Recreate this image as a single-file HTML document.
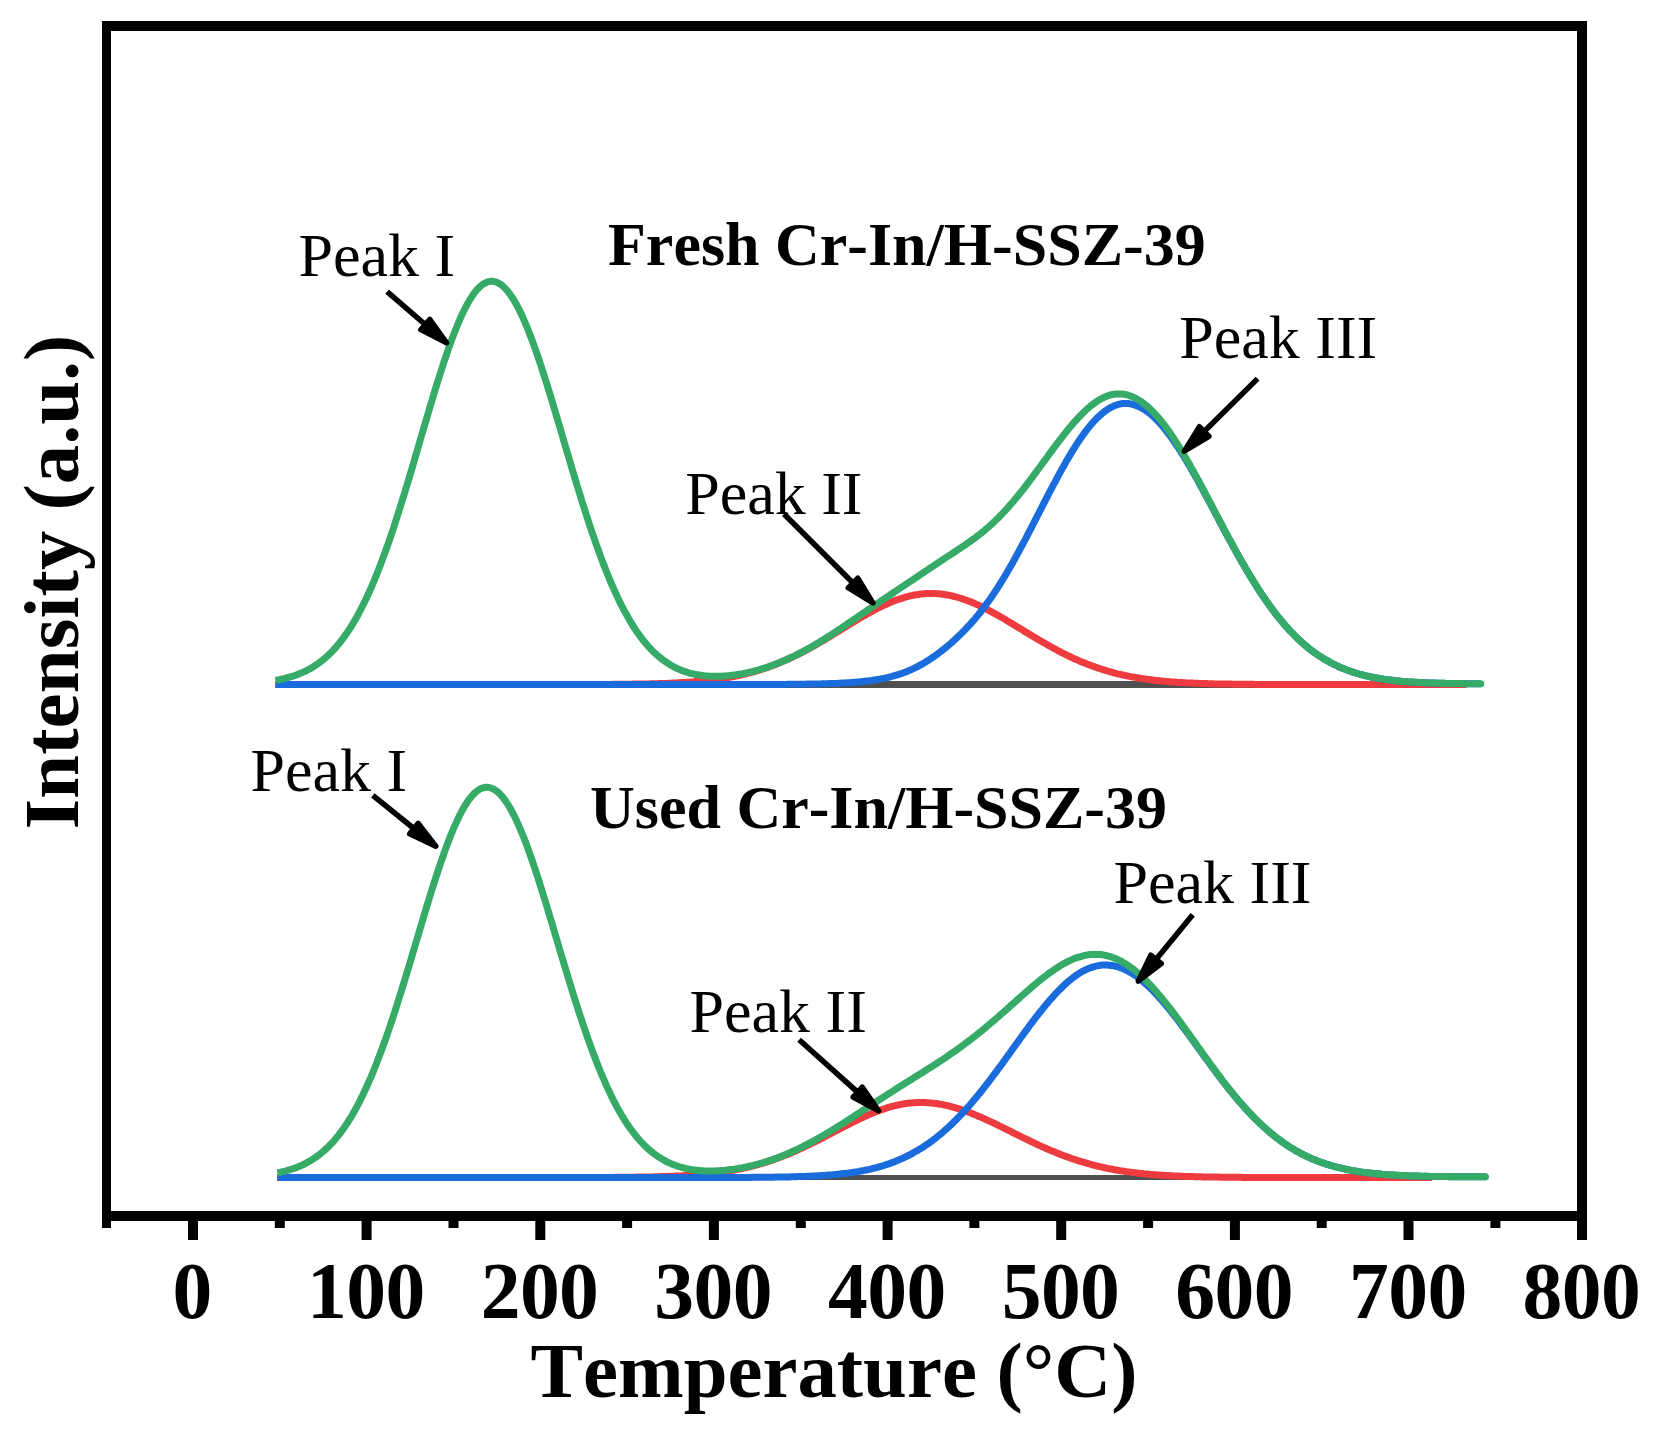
<!DOCTYPE html>
<html lang="en"><head><meta charset="utf-8"><title>NH3-TPD profiles</title>
<style>
html,body{margin:0;padding:0;background:#fff;}
body{width:1666px;height:1433px;overflow:hidden;}
svg{display:block;}
text{font-family:"Liberation Serif","Times New Roman",serif;fill:#000;font-kerning:none;font-variant-ligatures:none;}
.b{font-weight:bold;}
.r{font-weight:normal;}
</style></head>
<body>
<svg width="1666" height="1433" viewBox="0 0 1666 1433">
<rect width="1666" height="1433" fill="#fff"/>
<g id="curves">
<path d="M275.5 684.5 L1466.2 684.5" stroke="#505050" stroke-width="7" fill="none"/>
<path d="M275.5 684.5 L277.2 684.5 L279.0 684.5 L280.7 684.5 L282.4 684.5 L284.2 684.5 L285.9 684.5 L287.6 684.5 L289.4 684.5 L291.1 684.5 L292.8 684.5 L294.6 684.5 L296.3 684.5 L298.1 684.5 L299.8 684.5 L301.5 684.5 L303.3 684.5 L305.0 684.5 L306.7 684.5 L308.5 684.5 L310.2 684.5 L312.0 684.5 L313.7 684.5 L315.4 684.5 L317.2 684.5 L318.9 684.5 L320.6 684.5 L322.4 684.5 L324.1 684.5 L325.8 684.5 L327.6 684.5 L329.3 684.5 L331.1 684.5 L332.8 684.5 L334.5 684.5 L336.3 684.5 L338.0 684.5 L339.7 684.5 L341.5 684.5 L343.2 684.5 L344.9 684.5 L346.7 684.5 L348.4 684.5 L350.2 684.5 L351.9 684.5 L353.6 684.5 L355.4 684.5 L357.1 684.5 L358.8 684.5 L360.6 684.5 L362.3 684.5 L364.0 684.5 L365.8 684.5 L367.5 684.5 L369.3 684.5 L371.0 684.5 L372.7 684.5 L374.5 684.5 L376.2 684.5 L377.9 684.5 L379.7 684.5 L381.4 684.5 L383.1 684.5 L384.9 684.5 L386.6 684.5 L388.4 684.5 L390.1 684.5 L391.8 684.5 L393.6 684.5 L395.3 684.5 L397.0 684.5 L398.8 684.5 L400.5 684.5 L402.2 684.5 L404.0 684.5 L405.7 684.5 L407.5 684.5 L409.2 684.5 L410.9 684.5 L412.7 684.5 L414.4 684.5 L416.1 684.5 L417.9 684.5 L419.6 684.5 L421.3 684.5 L423.1 684.5 L424.8 684.5 L426.6 684.5 L428.3 684.5 L430.0 684.5 L431.8 684.5 L433.5 684.5 L435.2 684.5 L437.0 684.5 L438.7 684.5 L440.5 684.5 L442.2 684.5 L443.9 684.5 L445.7 684.5 L447.4 684.5 L449.1 684.5 L450.9 684.5 L452.6 684.5 L454.3 684.5 L456.1 684.5 L457.8 684.5 L459.6 684.5 L461.3 684.5 L463.0 684.5 L464.8 684.5 L466.5 684.5 L468.2 684.5 L470.0 684.5 L471.7 684.5 L473.4 684.5 L475.2 684.5 L476.9 684.5 L478.7 684.5 L480.4 684.5 L482.1 684.5 L483.9 684.5 L485.6 684.5 L487.3 684.5 L489.1 684.5 L490.8 684.5 L492.5 684.5 L494.3 684.5 L496.0 684.5 L497.8 684.5 L499.5 684.5 L501.2 684.5 L503.0 684.5 L504.7 684.5 L506.4 684.5 L508.2 684.5 L509.9 684.5 L511.6 684.5 L513.4 684.5 L515.1 684.5 L516.9 684.5 L518.6 684.5 L520.3 684.5 L522.1 684.5 L523.8 684.5 L525.5 684.5 L527.3 684.5 L529.0 684.5 L530.7 684.5 L532.5 684.5 L534.2 684.5 L536.0 684.5 L537.7 684.5 L539.4 684.5 L541.2 684.5 L542.9 684.5 L544.6 684.5 L546.4 684.5 L548.1 684.5 L549.9 684.5 L551.6 684.5 L553.3 684.5 L555.1 684.5 L556.8 684.5 L558.5 684.5 L560.3 684.5 L562.0 684.5 L563.7 684.5 L565.5 684.5 L567.2 684.5 L569.0 684.5 L570.7 684.5 L572.4 684.5 L574.2 684.5 L575.9 684.5 L577.6 684.5 L579.4 684.5 L581.1 684.5 L582.8 684.5 L584.6 684.4 L586.3 684.4 L588.1 684.4 L589.8 684.4 L591.5 684.4 L593.3 684.4 L595.0 684.4 L596.7 684.4 L598.5 684.4 L600.2 684.4 L601.9 684.4 L603.7 684.4 L605.4 684.4 L607.2 684.4 L608.9 684.4 L610.6 684.4 L612.4 684.3 L614.1 684.3 L615.8 684.3 L617.6 684.3 L619.3 684.3 L621.0 684.3 L622.8 684.3 L624.5 684.2 L626.3 684.2 L628.0 684.2 L629.7 684.2 L631.5 684.2 L633.2 684.1 L634.9 684.1 L636.7 684.1 L638.4 684.1 L640.1 684.0 L641.9 684.0 L643.6 684.0 L645.4 683.9 L647.1 683.9 L648.8 683.9 L650.6 683.8 L652.3 683.8 L654.0 683.7 L655.8 683.7 L657.5 683.7 L659.3 683.6 L661.0 683.5 L662.7 683.5 L664.5 683.4 L666.2 683.4 L667.9 683.3 L669.7 683.2 L671.4 683.2 L673.1 683.1 L674.9 683.0 L676.6 682.9 L678.4 682.8 L680.1 682.7 L681.8 682.6 L683.6 682.5 L685.3 682.4 L687.0 682.3 L688.8 682.2 L690.5 682.1 L692.2 681.9 L694.0 681.8 L695.7 681.6 L697.5 681.5 L699.2 681.3 L700.9 681.2 L702.7 681.0 L704.4 680.8 L706.1 680.6 L707.9 680.5 L709.6 680.3 L711.3 680.0 L713.1 679.8 L714.8 679.6 L716.6 679.4 L718.3 679.1 L720.0 678.9 L721.8 678.6 L723.5 678.3 L725.2 678.1 L727.0 677.8 L728.7 677.5 L730.4 677.1 L732.2 676.8 L733.9 676.5 L735.7 676.1 L737.4 675.8 L739.1 675.4 L740.9 675.0 L742.6 674.6 L744.3 674.2 L746.1 673.8 L747.8 673.3 L749.5 672.9 L751.3 672.4 L753.0 671.9 L754.8 671.5 L756.5 670.9 L758.2 670.4 L760.0 669.9 L761.7 669.3 L763.4 668.8 L765.2 668.2 L766.9 667.6 L768.6 667.0 L770.4 666.4 L772.1 665.7 L773.9 665.1 L775.6 664.4 L777.3 663.7 L779.1 663.0 L780.8 662.3 L782.5 661.6 L784.3 660.8 L786.0 660.1 L787.8 659.3 L789.5 658.5 L791.2 657.7 L793.0 656.9 L794.7 656.0 L796.4 655.2 L798.2 654.3 L799.9 653.4 L801.6 652.5 L803.4 651.6 L805.1 650.7 L806.9 649.8 L808.6 648.8 L810.3 647.9 L812.1 646.9 L813.8 646.0 L815.5 645.0 L817.3 644.0 L819.0 643.0 L820.7 641.9 L822.5 640.9 L824.2 639.9 L826.0 638.9 L827.7 637.8 L829.4 636.8 L831.2 635.7 L832.9 634.6 L834.6 633.6 L836.4 632.5 L838.1 631.4 L839.8 630.4 L841.6 629.3 L843.3 628.2 L845.1 627.2 L846.8 626.1 L848.5 625.0 L850.3 624.0 L852.0 622.9 L853.7 621.9 L855.5 620.8 L857.2 619.8 L858.9 618.7 L860.7 617.7 L862.4 616.7 L864.2 615.7 L865.9 614.7 L867.6 613.7 L869.4 612.7 L871.1 611.8 L872.8 610.9 L874.6 609.9 L876.3 609.0 L878.0 608.1 L879.8 607.3 L881.5 606.4 L883.3 605.6 L885.0 604.8 L886.7 604.0 L888.5 603.2 L890.2 602.5 L891.9 601.8 L893.7 601.1 L895.4 600.4 L897.2 599.8 L898.9 599.2 L900.6 598.6 L902.4 598.1 L904.1 597.5 L905.8 597.0 L907.6 596.6 L909.3 596.1 L911.0 595.7 L912.8 595.4 L914.5 595.0 L916.3 594.7 L918.0 594.5 L919.7 594.2 L921.5 594.0 L923.2 593.8 L924.9 593.7 L926.7 593.6 L928.4 593.5 L930.1 593.5 L931.9 593.5 L933.6 593.5 L935.4 593.6 L937.1 593.7 L938.8 593.8 L940.6 594.0 L942.3 594.2 L944.0 594.4 L945.8 594.7 L947.5 595.0 L949.2 595.3 L951.0 595.7 L952.7 596.1 L954.5 596.5 L956.2 597.0 L957.9 597.5 L959.7 598.0 L961.4 598.5 L963.1 599.1 L964.9 599.7 L966.6 600.3 L968.3 601.0 L970.1 601.6 L971.8 602.3 L973.6 603.1 L975.3 603.8 L977.0 604.6 L978.8 605.4 L980.5 606.2 L982.2 607.0 L984.0 607.9 L985.7 608.8 L987.4 609.6 L989.2 610.6 L990.9 611.5 L992.7 612.4 L994.4 613.4 L996.1 614.3 L997.9 615.3 L999.6 616.3 L1001.3 617.3 L1003.1 618.3 L1004.8 619.3 L1006.6 620.4 L1008.3 621.4 L1010.0 622.4 L1011.8 623.5 L1013.5 624.5 L1015.2 625.6 L1017.0 626.7 L1018.7 627.7 L1020.4 628.8 L1022.2 629.8 L1023.9 630.9 L1025.7 632.0 L1027.4 633.0 L1029.1 634.1 L1030.9 635.1 L1032.6 636.2 L1034.3 637.2 L1036.1 638.3 L1037.8 639.3 L1039.5 640.3 L1041.3 641.3 L1043.0 642.3 L1044.8 643.3 L1046.5 644.3 L1048.2 645.3 L1050.0 646.3 L1051.7 647.2 L1053.4 648.2 L1055.2 649.1 L1056.9 650.1 L1058.6 651.0 L1060.4 651.9 L1062.1 652.8 L1063.9 653.7 L1065.6 654.5 L1067.3 655.4 L1069.1 656.2 L1070.8 657.0 L1072.5 657.9 L1074.3 658.7 L1076.0 659.4 L1077.7 660.2 L1079.5 661.0 L1081.2 661.7 L1083.0 662.4 L1084.7 663.1 L1086.4 663.8 L1088.2 664.5 L1089.9 665.1 L1091.6 665.8 L1093.4 666.4 L1095.1 667.0 L1096.8 667.6 L1098.6 668.2 L1100.3 668.8 L1102.1 669.4 L1103.8 669.9 L1105.5 670.4 L1107.3 671.0 L1109.0 671.5 L1110.7 671.9 L1112.5 672.4 L1114.2 672.9 L1115.9 673.3 L1117.7 673.8 L1119.4 674.2 L1121.2 674.6 L1122.9 675.0 L1124.6 675.4 L1126.4 675.7 L1128.1 676.1 L1129.8 676.4 L1131.6 676.8 L1133.3 677.1 L1135.1 677.4 L1136.8 677.7 L1138.5 678.0 L1140.3 678.3 L1142.0 678.6 L1143.7 678.8 L1145.5 679.1 L1147.2 679.3 L1148.9 679.6 L1150.7 679.8 L1152.4 680.0 L1154.2 680.2 L1155.9 680.4 L1157.6 680.6 L1159.4 680.8 L1161.1 681.0 L1162.8 681.1 L1164.6 681.3 L1166.3 681.4 L1168.0 681.6 L1169.8 681.7 L1171.5 681.9 L1173.3 682.0 L1175.0 682.1 L1176.7 682.3 L1178.5 682.4 L1180.2 682.5 L1181.9 682.6 L1183.7 682.7 L1185.4 682.8 L1187.1 682.9 L1188.9 683.0 L1190.6 683.0 L1192.4 683.1 L1194.1 683.2 L1195.8 683.3 L1197.6 683.3 L1199.3 683.4 L1201.0 683.5 L1202.8 683.5 L1204.5 683.6 L1206.2 683.6 L1208.0 683.7 L1209.7 683.7 L1211.5 683.8 L1213.2 683.8 L1214.9 683.9 L1216.7 683.9 L1218.4 683.9 L1220.1 684.0 L1221.9 684.0 L1223.6 684.0 L1225.3 684.1 L1227.1 684.1 L1228.8 684.1 L1230.6 684.1 L1232.3 684.2 L1234.0 684.2 L1235.8 684.2 L1237.5 684.2 L1239.2 684.2 L1241.0 684.2 L1242.7 684.3 L1244.5 684.3 L1246.2 684.3 L1247.9 684.3 L1249.7 684.3 L1251.4 684.3 L1253.1 684.3 L1254.9 684.4 L1256.6 684.4 L1258.3 684.4 L1260.1 684.4 L1261.8 684.4 L1263.6 684.4 L1265.3 684.4 L1267.0 684.4 L1268.8 684.4 L1270.5 684.4 L1272.2 684.4 L1274.0 684.4 L1275.7 684.4 L1277.4 684.4 L1279.2 684.4 L1280.9 684.5 L1282.7 684.5 L1284.4 684.5 L1286.1 684.5 L1287.9 684.5 L1289.6 684.5 L1291.3 684.5 L1293.1 684.5 L1294.8 684.5 L1296.5 684.5 L1298.3 684.5 L1300.0 684.5 L1301.8 684.5 L1303.5 684.5 L1305.2 684.5 L1307.0 684.5 L1308.7 684.5 L1310.4 684.5 L1312.2 684.5 L1313.9 684.5 L1315.6 684.5 L1317.4 684.5 L1319.1 684.5 L1320.9 684.5 L1322.6 684.5 L1324.3 684.5 L1326.1 684.5 L1327.8 684.5 L1329.5 684.5 L1331.3 684.5 L1333.0 684.5 L1334.7 684.5 L1336.5 684.5 L1338.2 684.5 L1340.0 684.5 L1341.7 684.5 L1343.4 684.5 L1345.2 684.5 L1346.9 684.5 L1348.6 684.5 L1350.4 684.5 L1352.1 684.5 L1353.9 684.5 L1355.6 684.5 L1357.3 684.5 L1359.1 684.5 L1360.8 684.5 L1362.5 684.5 L1364.3 684.5 L1366.0 684.5 L1367.7 684.5 L1369.5 684.5 L1371.2 684.5 L1373.0 684.5 L1374.7 684.5 L1376.4 684.5 L1378.2 684.5 L1379.9 684.5 L1381.6 684.5 L1383.4 684.5 L1385.1 684.5 L1386.8 684.5 L1388.6 684.5 L1390.3 684.5 L1392.1 684.5 L1393.8 684.5 L1395.5 684.5 L1397.3 684.5 L1399.0 684.5 L1400.7 684.5 L1402.5 684.5 L1404.2 684.5 L1405.9 684.5 L1407.7 684.5 L1409.4 684.5 L1411.2 684.5 L1412.9 684.5 L1414.6 684.5 L1416.4 684.5 L1418.1 684.5 L1419.8 684.5 L1421.6 684.5 L1423.3 684.5 L1425.0 684.5 L1426.8 684.5 L1428.5 684.5 L1430.3 684.5 L1432.0 684.5 L1433.7 684.5 L1435.5 684.5 L1437.2 684.5 L1438.9 684.5 L1440.7 684.5 L1442.4 684.5 L1444.1 684.5 L1445.9 684.5 L1447.6 684.5 L1449.4 684.5 L1451.1 684.5 L1452.8 684.5 L1454.6 684.5 L1456.3 684.5 L1458.0 684.5 L1459.8 684.5 L1461.5 684.5 L1463.2 684.5 L1465.0 684.5 L1466.2 684.5" stroke="#EE3B40" stroke-width="7" fill="none" stroke-linejoin="round"/>
<path d="M275.5 684.5 L277.2 684.5 L279.0 684.5 L280.7 684.5 L282.4 684.5 L284.2 684.5 L285.9 684.5 L287.6 684.5 L289.4 684.5 L291.1 684.5 L292.8 684.5 L294.6 684.5 L296.3 684.5 L298.1 684.5 L299.8 684.5 L301.5 684.5 L303.3 684.5 L305.0 684.5 L306.7 684.5 L308.5 684.5 L310.2 684.5 L312.0 684.5 L313.7 684.5 L315.4 684.5 L317.2 684.5 L318.9 684.5 L320.6 684.5 L322.4 684.5 L324.1 684.5 L325.8 684.5 L327.6 684.5 L329.3 684.5 L331.1 684.5 L332.8 684.5 L334.5 684.5 L336.3 684.5 L338.0 684.5 L339.7 684.5 L341.5 684.5 L343.2 684.5 L344.9 684.5 L346.7 684.5 L348.4 684.5 L350.2 684.5 L351.9 684.5 L353.6 684.5 L355.4 684.5 L357.1 684.5 L358.8 684.5 L360.6 684.5 L362.3 684.5 L364.0 684.5 L365.8 684.5 L367.5 684.5 L369.3 684.5 L371.0 684.5 L372.7 684.5 L374.5 684.5 L376.2 684.5 L377.9 684.5 L379.7 684.5 L381.4 684.5 L383.1 684.5 L384.9 684.5 L386.6 684.5 L388.4 684.5 L390.1 684.5 L391.8 684.5 L393.6 684.5 L395.3 684.5 L397.0 684.5 L398.8 684.5 L400.5 684.5 L402.2 684.5 L404.0 684.5 L405.7 684.5 L407.5 684.5 L409.2 684.5 L410.9 684.5 L412.7 684.5 L414.4 684.5 L416.1 684.5 L417.9 684.5 L419.6 684.5 L421.3 684.5 L423.1 684.5 L424.8 684.5 L426.6 684.5 L428.3 684.5 L430.0 684.5 L431.8 684.5 L433.5 684.5 L435.2 684.5 L437.0 684.5 L438.7 684.5 L440.5 684.5 L442.2 684.5 L443.9 684.5 L445.7 684.5 L447.4 684.5 L449.1 684.5 L450.9 684.5 L452.6 684.5 L454.3 684.5 L456.1 684.5 L457.8 684.5 L459.6 684.5 L461.3 684.5 L463.0 684.5 L464.8 684.5 L466.5 684.5 L468.2 684.5 L470.0 684.5 L471.7 684.5 L473.4 684.5 L475.2 684.5 L476.9 684.5 L478.7 684.5 L480.4 684.5 L482.1 684.5 L483.9 684.5 L485.6 684.5 L487.3 684.5 L489.1 684.5 L490.8 684.5 L492.5 684.5 L494.3 684.5 L496.0 684.5 L497.8 684.5 L499.5 684.5 L501.2 684.5 L503.0 684.5 L504.7 684.5 L506.4 684.5 L508.2 684.5 L509.9 684.5 L511.6 684.5 L513.4 684.5 L515.1 684.5 L516.9 684.5 L518.6 684.5 L520.3 684.5 L522.1 684.5 L523.8 684.5 L525.5 684.5 L527.3 684.5 L529.0 684.5 L530.7 684.5 L532.5 684.5 L534.2 684.5 L536.0 684.5 L537.7 684.5 L539.4 684.5 L541.2 684.5 L542.9 684.5 L544.6 684.5 L546.4 684.5 L548.1 684.5 L549.9 684.5 L551.6 684.5 L553.3 684.5 L555.1 684.5 L556.8 684.5 L558.5 684.5 L560.3 684.5 L562.0 684.5 L563.7 684.5 L565.5 684.5 L567.2 684.5 L569.0 684.5 L570.7 684.5 L572.4 684.5 L574.2 684.5 L575.9 684.5 L577.6 684.5 L579.4 684.5 L581.1 684.5 L582.8 684.5 L584.6 684.5 L586.3 684.5 L588.1 684.5 L589.8 684.5 L591.5 684.5 L593.3 684.5 L595.0 684.5 L596.7 684.5 L598.5 684.5 L600.2 684.5 L601.9 684.5 L603.7 684.5 L605.4 684.5 L607.2 684.5 L608.9 684.5 L610.6 684.5 L612.4 684.5 L614.1 684.5 L615.8 684.5 L617.6 684.5 L619.3 684.5 L621.0 684.5 L622.8 684.5 L624.5 684.5 L626.3 684.5 L628.0 684.5 L629.7 684.5 L631.5 684.5 L633.2 684.5 L634.9 684.5 L636.7 684.5 L638.4 684.5 L640.1 684.5 L641.9 684.5 L643.6 684.5 L645.4 684.5 L647.1 684.5 L648.8 684.5 L650.6 684.5 L652.3 684.5 L654.0 684.5 L655.8 684.5 L657.5 684.5 L659.3 684.5 L661.0 684.5 L662.7 684.5 L664.5 684.5 L666.2 684.5 L667.9 684.5 L669.7 684.5 L671.4 684.5 L673.1 684.5 L674.9 684.5 L676.6 684.5 L678.4 684.5 L680.1 684.5 L681.8 684.5 L683.6 684.5 L685.3 684.5 L687.0 684.5 L688.8 684.5 L690.5 684.5 L692.2 684.5 L694.0 684.5 L695.7 684.5 L697.5 684.5 L699.2 684.5 L700.9 684.5 L702.7 684.5 L704.4 684.5 L706.1 684.5 L707.9 684.5 L709.6 684.5 L711.3 684.5 L713.1 684.5 L714.8 684.5 L716.6 684.5 L718.3 684.5 L720.0 684.5 L721.8 684.5 L723.5 684.5 L725.2 684.5 L727.0 684.5 L728.7 684.5 L730.4 684.5 L732.2 684.5 L733.9 684.5 L735.7 684.5 L737.4 684.5 L739.1 684.5 L740.9 684.5 L742.6 684.5 L744.3 684.5 L746.1 684.5 L747.8 684.5 L749.5 684.5 L751.3 684.5 L753.0 684.5 L754.8 684.5 L756.5 684.5 L758.2 684.5 L760.0 684.5 L761.7 684.5 L763.4 684.4 L765.2 684.4 L766.9 684.4 L768.6 684.4 L770.4 684.4 L772.1 684.4 L773.9 684.4 L775.6 684.4 L777.3 684.4 L779.1 684.4 L780.8 684.4 L782.5 684.4 L784.3 684.4 L786.0 684.4 L787.8 684.3 L789.5 684.3 L791.2 684.3 L793.0 684.3 L794.7 684.3 L796.4 684.3 L798.2 684.3 L799.9 684.2 L801.6 684.2 L803.4 684.2 L805.1 684.2 L806.9 684.1 L808.6 684.1 L810.3 684.1 L812.1 684.1 L813.8 684.0 L815.5 684.0 L817.3 684.0 L819.0 683.9 L820.7 683.9 L822.5 683.8 L824.2 683.8 L826.0 683.7 L827.7 683.7 L829.4 683.6 L831.2 683.6 L832.9 683.5 L834.6 683.4 L836.4 683.4 L838.1 683.3 L839.8 683.2 L841.6 683.1 L843.3 683.0 L845.1 682.9 L846.8 682.8 L848.5 682.7 L850.3 682.6 L852.0 682.4 L853.7 682.3 L855.5 682.2 L857.2 682.0 L858.9 681.9 L860.7 681.7 L862.4 681.5 L864.2 681.3 L865.9 681.1 L867.6 680.9 L869.4 680.7 L871.1 680.5 L872.8 680.2 L874.6 680.0 L876.3 679.7 L878.0 679.4 L879.8 679.1 L881.5 678.8 L883.3 678.4 L885.0 678.1 L886.7 677.7 L888.5 677.3 L890.2 676.8 L891.9 676.4 L893.7 675.9 L895.4 675.4 L897.2 674.9 L898.9 674.4 L900.6 673.8 L902.4 673.2 L904.1 672.5 L905.8 671.9 L907.6 671.2 L909.3 670.4 L911.0 669.7 L912.8 668.9 L914.5 668.1 L916.3 667.2 L918.0 666.3 L919.7 665.4 L921.5 664.4 L923.2 663.4 L924.9 662.4 L926.7 661.3 L928.4 660.2 L930.1 659.1 L931.9 657.9 L933.6 656.8 L935.4 655.5 L937.1 654.3 L938.8 653.0 L940.6 651.7 L942.3 650.3 L944.0 648.9 L945.8 647.5 L947.5 646.1 L949.2 644.6 L951.0 643.1 L952.7 641.6 L954.5 640.0 L956.2 638.4 L957.9 636.8 L959.7 635.1 L961.4 633.4 L963.1 631.7 L964.9 629.9 L966.6 628.1 L968.3 626.2 L970.1 624.3 L971.8 622.4 L973.6 620.4 L975.3 618.4 L977.0 616.3 L978.8 614.2 L980.5 612.0 L982.2 609.8 L984.0 607.5 L985.7 605.2 L987.4 602.8 L989.2 600.3 L990.9 597.9 L992.7 595.3 L994.4 592.7 L996.1 590.1 L997.9 587.4 L999.6 584.7 L1001.3 581.9 L1003.1 579.0 L1004.8 576.2 L1006.6 573.2 L1008.3 570.3 L1010.0 567.3 L1011.8 564.2 L1013.5 561.1 L1015.2 558.0 L1017.0 554.8 L1018.7 551.6 L1020.4 548.4 L1022.2 545.2 L1023.9 541.9 L1025.7 538.6 L1027.4 535.3 L1029.1 531.9 L1030.9 528.6 L1032.6 525.2 L1034.3 521.8 L1036.1 518.4 L1037.8 515.1 L1039.5 511.7 L1041.3 508.3 L1043.0 504.9 L1044.8 501.5 L1046.5 498.1 L1048.2 494.8 L1050.0 491.4 L1051.7 488.1 L1053.4 484.8 L1055.2 481.6 L1056.9 478.3 L1058.6 475.1 L1060.4 471.9 L1062.1 468.8 L1063.9 465.7 L1065.6 462.6 L1067.3 459.6 L1069.1 456.6 L1070.8 453.7 L1072.5 450.9 L1074.3 448.1 L1076.0 445.3 L1077.7 442.7 L1079.5 440.0 L1081.2 437.5 L1083.0 435.0 L1084.7 432.7 L1086.4 430.4 L1088.2 428.1 L1089.9 426.0 L1091.6 423.9 L1093.4 421.9 L1095.1 420.1 L1096.8 418.3 L1098.6 416.6 L1100.3 415.0 L1102.1 413.5 L1103.8 412.1 L1105.5 410.8 L1107.3 409.6 L1109.0 408.5 L1110.7 407.5 L1112.5 406.6 L1114.2 405.8 L1115.9 405.2 L1117.7 404.6 L1119.4 404.2 L1121.2 403.8 L1122.9 403.6 L1124.6 403.5 L1126.4 403.5 L1128.1 403.6 L1129.8 403.8 L1131.6 404.1 L1133.3 404.6 L1135.1 405.1 L1136.8 405.7 L1138.5 406.4 L1140.3 407.2 L1142.0 408.2 L1143.7 409.2 L1145.5 410.3 L1147.2 411.5 L1148.9 412.8 L1150.7 414.2 L1152.4 415.7 L1154.2 417.3 L1155.9 419.0 L1157.6 420.7 L1159.4 422.6 L1161.1 424.5 L1162.8 426.5 L1164.6 428.6 L1166.3 430.8 L1168.0 433.0 L1169.8 435.3 L1171.5 437.7 L1173.3 440.2 L1175.0 442.7 L1176.7 445.3 L1178.5 447.9 L1180.2 450.6 L1181.9 453.4 L1183.7 456.2 L1185.4 459.0 L1187.1 461.9 L1188.9 464.9 L1190.6 467.8 L1192.4 470.9 L1194.1 473.9 L1195.8 477.0 L1197.6 480.1 L1199.3 483.3 L1201.0 486.5 L1202.8 489.7 L1204.5 492.9 L1206.2 496.1 L1208.0 499.4 L1209.7 502.6 L1211.5 505.9 L1213.2 509.1 L1214.9 512.4 L1216.7 515.7 L1218.4 519.0 L1220.1 522.3 L1221.9 525.5 L1223.6 528.8 L1225.3 532.0 L1227.1 535.3 L1228.8 538.5 L1230.6 541.7 L1232.3 544.9 L1234.0 548.0 L1235.8 551.2 L1237.5 554.3 L1239.2 557.4 L1241.0 560.4 L1242.7 563.4 L1244.5 566.4 L1246.2 569.4 L1247.9 572.3 L1249.7 575.2 L1251.4 578.1 L1253.1 580.9 L1254.9 583.7 L1256.6 586.4 L1258.3 589.1 L1260.1 591.8 L1261.8 594.4 L1263.6 597.0 L1265.3 599.5 L1267.0 602.0 L1268.8 604.5 L1270.5 606.9 L1272.2 609.2 L1274.0 611.6 L1275.7 613.8 L1277.4 616.0 L1279.2 618.2 L1280.9 620.3 L1282.7 622.4 L1284.4 624.5 L1286.1 626.5 L1287.9 628.4 L1289.6 630.3 L1291.3 632.1 L1293.1 633.9 L1294.8 635.7 L1296.5 637.4 L1298.3 639.1 L1300.0 640.7 L1301.8 642.3 L1303.5 643.8 L1305.2 645.3 L1307.0 646.8 L1308.7 648.2 L1310.4 649.6 L1312.2 650.9 L1313.9 652.2 L1315.6 653.4 L1317.4 654.6 L1319.1 655.8 L1320.9 656.9 L1322.6 658.0 L1324.3 659.1 L1326.1 660.1 L1327.8 661.1 L1329.5 662.1 L1331.3 663.0 L1333.0 663.9 L1334.7 664.8 L1336.5 665.6 L1338.2 666.4 L1340.0 667.2 L1341.7 667.9 L1343.4 668.6 L1345.2 669.3 L1346.9 670.0 L1348.6 670.6 L1350.4 671.3 L1352.1 671.8 L1353.9 672.4 L1355.6 673.0 L1357.3 673.5 L1359.1 674.0 L1360.8 674.5 L1362.5 674.9 L1364.3 675.4 L1366.0 675.8 L1367.7 676.2 L1369.5 676.6 L1371.2 677.0 L1373.0 677.3 L1374.7 677.7 L1376.4 678.0 L1378.2 678.3 L1379.9 678.6 L1381.6 678.9 L1383.4 679.1 L1385.1 679.4 L1386.8 679.6 L1388.6 679.9 L1390.3 680.1 L1392.1 680.3 L1393.8 680.5 L1395.5 680.7 L1397.3 680.9 L1399.0 681.0 L1400.7 681.2 L1402.5 681.4 L1404.2 681.5 L1405.9 681.6 L1407.7 681.8 L1409.4 681.9 L1411.2 682.0 L1412.9 682.1 L1414.6 682.2 L1416.4 682.3 L1418.1 682.4 L1419.8 682.5 L1421.6 682.6 L1423.3 682.7 L1425.0 682.8 L1426.8 682.8 L1428.5 682.9 L1430.3 683.0 L1432.0 683.0 L1433.7 683.1 L1435.5 683.1 L1437.2 683.2 L1438.9 683.2 L1440.7 683.3 L1442.4 683.3 L1444.1 683.3 L1445.9 683.4 L1447.6 683.4 L1449.4 683.4 L1451.1 683.5 L1452.8 683.5 L1454.6 683.5 L1456.3 683.6 L1458.0 683.6 L1459.8 683.6 L1461.5 683.6 L1463.2 683.6 L1465.0 683.7 L1466.7 683.7 L1468.5 683.7 L1470.2 683.7 L1471.9 683.7 L1473.7 683.7 L1475.4 683.7 L1477.1 683.8 L1478.9 683.8 L1480.6 683.8 L1480.8 683.8" stroke="#1A6BDC" stroke-width="7" fill="none" stroke-linejoin="round"/>
<path d="M275.5 680.4 L277.2 680.1 L279.0 679.8 L280.7 679.4 L282.4 679.0 L284.2 678.6 L285.9 678.2 L287.6 677.7 L289.4 677.2 L291.1 676.7 L292.8 676.2 L294.6 675.6 L296.3 675.0 L298.1 674.3 L299.8 673.6 L301.5 672.9 L303.3 672.1 L305.0 671.3 L306.7 670.5 L308.5 669.5 L310.2 668.6 L312.0 667.6 L313.7 666.5 L315.4 665.4 L317.2 664.2 L318.9 663.0 L320.6 661.7 L322.4 660.3 L324.1 658.9 L325.8 657.4 L327.6 655.8 L329.3 654.2 L331.1 652.5 L332.8 650.7 L334.5 648.8 L336.3 646.8 L338.0 644.8 L339.7 642.7 L341.5 640.5 L343.2 638.2 L344.9 635.8 L346.7 633.3 L348.4 630.7 L350.2 628.1 L351.9 625.3 L353.6 622.4 L355.4 619.4 L357.1 616.4 L358.8 613.2 L360.6 609.9 L362.3 606.5 L364.0 603.0 L365.8 599.4 L367.5 595.7 L369.3 591.9 L371.0 588.0 L372.7 584.0 L374.5 579.8 L376.2 575.6 L377.9 571.3 L379.7 566.8 L381.4 562.3 L383.1 557.6 L384.9 552.9 L386.6 548.0 L388.4 543.1 L390.1 538.1 L391.8 533.0 L393.6 527.8 L395.3 522.5 L397.0 517.1 L398.8 511.7 L400.5 506.2 L402.2 500.6 L404.0 495.0 L405.7 489.3 L407.5 483.5 L409.2 477.7 L410.9 471.9 L412.7 466.0 L414.4 460.1 L416.1 454.2 L417.9 448.3 L419.6 442.3 L421.3 436.4 L423.1 430.4 L424.8 424.5 L426.6 418.6 L428.3 412.7 L430.0 406.8 L431.8 401.0 L433.5 395.3 L435.2 389.6 L437.0 383.9 L438.7 378.3 L440.5 372.9 L442.2 367.5 L443.9 362.2 L445.7 357.0 L447.4 351.9 L449.1 346.9 L450.9 342.1 L452.6 337.4 L454.3 332.9 L456.1 328.5 L457.8 324.2 L459.6 320.1 L461.3 316.2 L463.0 312.5 L464.8 309.0 L466.5 305.6 L468.2 302.5 L470.0 299.5 L471.7 296.8 L473.4 294.2 L475.2 291.9 L476.9 289.8 L478.7 288.0 L480.4 286.3 L482.1 284.9 L483.9 283.7 L485.6 282.8 L487.3 282.0 L489.1 281.6 L490.8 281.3 L492.5 281.3 L494.3 281.6 L496.0 282.0 L497.8 282.7 L499.5 283.7 L501.2 284.8 L503.0 286.2 L504.7 287.9 L506.4 289.7 L508.2 291.8 L509.9 294.1 L511.6 296.6 L513.4 299.3 L515.1 302.2 L516.9 305.3 L518.6 308.6 L520.3 312.1 L522.1 315.8 L523.8 319.6 L525.5 323.6 L527.3 327.8 L529.0 332.2 L530.7 336.7 L532.5 341.3 L534.2 346.1 L536.0 351.0 L537.7 356.0 L539.4 361.1 L541.2 366.4 L542.9 371.7 L544.6 377.1 L546.4 382.6 L548.1 388.2 L549.9 393.9 L551.6 399.6 L553.3 405.3 L555.1 411.1 L556.8 417.0 L558.5 422.8 L560.3 428.7 L562.0 434.6 L563.7 440.5 L565.5 446.4 L567.2 452.3 L569.0 458.2 L570.7 464.1 L572.4 469.9 L574.2 475.7 L575.9 481.5 L577.6 487.2 L579.4 492.8 L581.1 498.5 L582.8 504.0 L584.6 509.5 L586.3 514.9 L588.1 520.3 L589.8 525.6 L591.5 530.7 L593.3 535.9 L595.0 540.9 L596.7 545.8 L598.5 550.6 L600.2 555.4 L601.9 560.0 L603.7 564.6 L605.4 569.0 L607.2 573.4 L608.9 577.6 L610.6 581.8 L612.4 585.8 L614.1 589.7 L615.8 593.6 L617.6 597.3 L619.3 600.9 L621.0 604.4 L622.8 607.8 L624.5 611.1 L626.3 614.3 L628.0 617.4 L629.7 620.4 L631.5 623.3 L633.2 626.1 L634.9 628.8 L636.7 631.4 L638.4 633.8 L640.1 636.2 L641.9 638.6 L643.6 640.8 L645.4 642.9 L647.1 644.9 L648.8 646.9 L650.6 648.8 L652.3 650.6 L654.0 652.3 L655.8 653.9 L657.5 655.5 L659.3 656.9 L661.0 658.4 L662.7 659.7 L664.5 661.0 L666.2 662.2 L667.9 663.3 L669.7 664.4 L671.4 665.4 L673.1 666.4 L674.9 667.3 L676.6 668.2 L678.4 669.0 L680.1 669.7 L681.8 670.4 L683.6 671.1 L685.3 671.7 L687.0 672.2 L688.8 672.8 L690.5 673.3 L692.2 673.7 L694.0 674.1 L695.7 674.5 L697.5 674.8 L699.2 675.1 L700.9 675.3 L702.7 675.6 L704.4 675.8 L706.1 675.9 L707.9 676.1 L709.6 676.2 L711.3 676.3 L713.1 676.3 L714.8 676.3 L716.6 676.3 L718.3 676.3 L720.0 676.3 L721.8 676.2 L723.5 676.1 L725.2 676.0 L727.0 675.8 L728.7 675.7 L730.4 675.5 L732.2 675.3 L733.9 675.1 L735.7 674.8 L737.4 674.6 L739.1 674.3 L740.9 674.0 L742.6 673.7 L744.3 673.3 L746.1 673.0 L747.8 672.6 L749.5 672.2 L751.3 671.8 L753.0 671.4 L754.8 670.9 L756.5 670.5 L758.2 670.0 L760.0 669.5 L761.7 668.9 L763.4 668.4 L765.2 667.8 L766.9 667.3 L768.6 666.7 L770.4 666.1 L772.1 665.4 L773.9 664.8 L775.6 664.1 L777.3 663.5 L779.1 662.8 L780.8 662.1 L782.5 661.3 L784.3 660.6 L786.0 659.8 L787.8 659.0 L789.5 658.2 L791.2 657.4 L793.0 656.6 L794.7 655.8 L796.4 654.9 L798.2 654.0 L799.9 653.1 L801.6 652.2 L803.4 651.3 L805.1 650.4 L806.9 649.4 L808.6 648.4 L810.3 647.5 L812.1 646.5 L813.8 645.5 L815.5 644.4 L817.3 643.4 L819.0 642.4 L820.7 641.3 L822.5 640.2 L824.2 639.2 L826.0 638.1 L827.7 637.0 L829.4 635.9 L831.2 634.8 L832.9 633.6 L834.6 632.5 L836.4 631.4 L838.1 630.2 L839.8 629.1 L841.6 627.9 L843.3 626.7 L845.1 625.6 L846.8 624.4 L848.5 623.2 L850.3 622.0 L852.0 620.9 L853.7 619.7 L855.5 618.5 L857.2 617.3 L858.9 616.1 L860.7 614.9 L862.4 613.7 L864.2 612.5 L865.9 611.3 L867.6 610.1 L869.4 609.0 L871.1 607.8 L872.8 606.6 L874.6 605.4 L876.3 604.2 L878.0 603.0 L879.8 601.9 L881.5 600.7 L883.3 599.5 L885.0 598.3 L886.7 597.2 L888.5 596.0 L890.2 594.8 L891.9 593.7 L893.7 592.5 L895.4 591.4 L897.2 590.2 L898.9 589.0 L900.6 587.9 L902.4 586.7 L904.1 585.6 L905.8 584.4 L907.6 583.2 L909.3 582.1 L911.0 580.9 L912.8 579.8 L914.5 578.6 L916.3 577.4 L918.0 576.3 L919.7 575.1 L921.5 573.9 L923.2 572.8 L924.9 571.6 L926.7 570.4 L928.4 569.3 L930.1 568.1 L931.9 567.0 L933.6 565.8 L935.4 564.6 L937.1 563.5 L938.8 562.3 L940.6 561.2 L942.3 560.0 L944.0 558.9 L945.8 557.7 L947.5 556.6 L949.2 555.5 L951.0 554.3 L952.7 553.2 L954.5 552.0 L956.2 550.9 L957.9 549.7 L959.7 548.6 L961.4 547.4 L963.1 546.3 L964.9 545.1 L966.6 543.9 L968.3 542.7 L970.1 541.5 L971.8 540.2 L973.6 539.0 L975.3 537.7 L977.0 536.4 L978.8 535.0 L980.5 533.7 L982.2 532.3 L984.0 530.9 L985.7 529.4 L987.4 527.9 L989.2 526.4 L990.9 524.8 L992.7 523.2 L994.4 521.6 L996.1 519.9 L997.9 518.2 L999.6 516.5 L1001.3 514.7 L1003.1 512.9 L1004.8 511.0 L1006.6 509.1 L1008.3 507.2 L1010.0 505.2 L1011.8 503.2 L1013.5 501.2 L1015.2 499.1 L1017.0 497.0 L1018.7 494.8 L1020.4 492.7 L1022.2 490.5 L1023.9 488.3 L1025.7 486.0 L1027.4 483.8 L1029.1 481.5 L1030.9 479.2 L1032.6 476.9 L1034.3 474.5 L1036.1 472.2 L1037.8 469.8 L1039.5 467.5 L1041.3 465.1 L1043.0 462.7 L1044.8 460.3 L1046.5 458.0 L1048.2 455.6 L1050.0 453.2 L1051.7 450.9 L1053.4 448.5 L1055.2 446.2 L1056.9 443.9 L1058.6 441.6 L1060.4 439.3 L1062.1 437.1 L1063.9 434.8 L1065.6 432.6 L1067.3 430.5 L1069.1 428.3 L1070.8 426.3 L1072.5 424.2 L1074.3 422.2 L1076.0 420.3 L1077.7 418.4 L1079.5 416.5 L1081.2 414.7 L1083.0 413.0 L1084.7 411.3 L1086.4 409.7 L1088.2 408.1 L1089.9 406.6 L1091.6 405.2 L1093.4 403.9 L1095.1 402.6 L1096.8 401.4 L1098.6 400.3 L1100.3 399.3 L1102.1 398.3 L1103.8 397.5 L1105.5 396.7 L1107.3 396.0 L1109.0 395.4 L1110.7 394.9 L1112.5 394.5 L1114.2 394.2 L1115.9 394.0 L1117.7 393.9 L1119.4 393.9 L1121.2 393.9 L1122.9 394.1 L1124.6 394.4 L1126.4 394.7 L1128.1 395.2 L1129.8 395.8 L1131.6 396.4 L1133.3 397.2 L1135.1 398.0 L1136.8 398.9 L1138.5 399.9 L1140.3 401.0 L1142.0 402.2 L1143.7 403.5 L1145.5 404.9 L1147.2 406.3 L1148.9 407.9 L1150.7 409.5 L1152.4 411.2 L1154.2 413.0 L1155.9 414.9 L1157.6 416.8 L1159.4 418.9 L1161.1 421.0 L1162.8 423.1 L1164.6 425.4 L1166.3 427.7 L1168.0 430.1 L1169.8 432.6 L1171.5 435.1 L1173.3 437.7 L1175.0 440.3 L1176.7 443.0 L1178.5 445.8 L1180.2 448.6 L1181.9 451.4 L1183.7 454.3 L1185.4 457.3 L1187.1 460.3 L1188.9 463.3 L1190.6 466.4 L1192.4 469.5 L1194.1 472.6 L1195.8 475.8 L1197.6 479.0 L1199.3 482.2 L1201.0 485.4 L1202.8 488.7 L1204.5 491.9 L1206.2 495.2 L1208.0 498.5 L1209.7 501.8 L1211.5 505.1 L1213.2 508.5 L1214.9 511.8 L1216.7 515.1 L1218.4 518.4 L1220.1 521.7 L1221.9 525.0 L1223.6 528.3 L1225.3 531.6 L1227.1 534.8 L1228.8 538.1 L1230.6 541.3 L1232.3 544.5 L1234.0 547.7 L1235.8 550.9 L1237.5 554.0 L1239.2 557.1 L1241.0 560.2 L1242.7 563.2 L1244.5 566.2 L1246.2 569.2 L1247.9 572.1 L1249.7 575.1 L1251.4 577.9 L1253.1 580.8 L1254.9 583.5 L1256.6 586.3 L1258.3 589.0 L1260.1 591.7 L1261.8 594.3 L1263.6 596.9 L1265.3 599.4 L1267.0 601.9 L1268.8 604.4 L1270.5 606.8 L1272.2 609.2 L1274.0 611.5 L1275.7 613.8 L1277.4 616.0 L1279.2 618.2 L1280.9 620.3 L1282.7 622.4 L1284.4 624.4 L1286.1 626.4 L1287.9 628.4 L1289.6 630.3 L1291.3 632.1 L1293.1 633.9 L1294.8 635.7 L1296.5 637.4 L1298.3 639.1 L1300.0 640.7 L1301.8 642.3 L1303.5 643.8 L1305.2 645.3 L1307.0 646.8 L1308.7 648.2 L1310.4 649.5 L1312.2 650.9 L1313.9 652.2 L1315.6 653.4 L1317.4 654.6 L1319.1 655.8 L1320.9 656.9 L1322.6 658.0 L1324.3 659.1 L1326.1 660.1 L1327.8 661.1 L1329.5 662.1 L1331.3 663.0 L1333.0 663.9 L1334.7 664.7 L1336.5 665.6 L1338.2 666.4 L1340.0 667.2 L1341.7 667.9 L1343.4 668.6 L1345.2 669.3 L1346.9 670.0 L1348.6 670.6 L1350.4 671.3 L1352.1 671.8 L1353.9 672.4 L1355.6 673.0 L1357.3 673.5 L1359.1 674.0 L1360.8 674.5 L1362.5 674.9 L1364.3 675.4 L1366.0 675.8 L1367.7 676.2 L1369.5 676.6 L1371.2 677.0 L1373.0 677.3 L1374.7 677.7 L1376.4 678.0 L1378.2 678.3 L1379.9 678.6 L1381.6 678.9 L1383.4 679.1 L1385.1 679.4 L1386.8 679.6 L1388.6 679.9 L1390.3 680.1 L1392.1 680.3 L1393.8 680.5 L1395.5 680.7 L1397.3 680.9 L1399.0 681.0 L1400.7 681.2 L1402.5 681.4 L1404.2 681.5 L1405.9 681.6 L1407.7 681.8 L1409.4 681.9 L1411.2 682.0 L1412.9 682.1 L1414.6 682.2 L1416.4 682.3 L1418.1 682.4 L1419.8 682.5 L1421.6 682.6 L1423.3 682.7 L1425.0 682.8 L1426.8 682.8 L1428.5 682.9 L1430.3 683.0 L1432.0 683.0 L1433.7 683.1 L1435.5 683.1 L1437.2 683.2 L1438.9 683.2 L1440.7 683.3 L1442.4 683.3 L1444.1 683.3 L1445.9 683.4 L1447.6 683.4 L1449.4 683.4 L1451.1 683.5 L1452.8 683.5 L1454.6 683.5 L1456.3 683.6 L1458.0 683.6 L1459.8 683.6 L1461.5 683.6 L1463.2 683.6 L1465.0 683.7 L1466.7 683.7 L1468.5 683.7 L1470.2 683.7 L1471.9 683.7 L1473.7 683.7 L1475.4 683.7 L1477.1 683.8 L1478.9 683.8 L1480.6 683.8 L1480.8 683.8" stroke="#36AA67" stroke-width="7" fill="none" stroke-linejoin="round"/>
<circle cx="1480.8" cy="683.8" r="3.5" fill="#36AA67"/>
<path d="M277.4 1177.5 L1432.2 1177.5" stroke="#505050" stroke-width="5" fill="none"/>
<path d="M277.4 1177.5 L279.1 1177.5 L280.9 1177.5 L282.6 1177.5 L284.3 1177.5 L286.1 1177.5 L287.8 1177.5 L289.5 1177.5 L291.3 1177.5 L293.0 1177.5 L294.8 1177.5 L296.5 1177.5 L298.2 1177.5 L300.0 1177.5 L301.7 1177.5 L303.4 1177.5 L305.2 1177.5 L306.9 1177.5 L308.7 1177.5 L310.4 1177.5 L312.1 1177.5 L313.9 1177.5 L315.6 1177.5 L317.3 1177.5 L319.1 1177.5 L320.8 1177.5 L322.5 1177.5 L324.3 1177.5 L326.0 1177.5 L327.8 1177.5 L329.5 1177.5 L331.2 1177.5 L333.0 1177.5 L334.7 1177.5 L336.4 1177.5 L338.2 1177.5 L339.9 1177.5 L341.6 1177.5 L343.4 1177.5 L345.1 1177.5 L346.9 1177.5 L348.6 1177.5 L350.3 1177.5 L352.1 1177.5 L353.8 1177.5 L355.5 1177.5 L357.3 1177.5 L359.0 1177.5 L360.7 1177.5 L362.5 1177.5 L364.2 1177.5 L366.0 1177.5 L367.7 1177.5 L369.4 1177.5 L371.2 1177.5 L372.9 1177.5 L374.6 1177.5 L376.4 1177.5 L378.1 1177.5 L379.8 1177.5 L381.6 1177.5 L383.3 1177.5 L385.1 1177.5 L386.8 1177.5 L388.5 1177.5 L390.3 1177.5 L392.0 1177.5 L393.7 1177.5 L395.5 1177.5 L397.2 1177.5 L398.9 1177.5 L400.7 1177.5 L402.4 1177.5 L404.2 1177.5 L405.9 1177.5 L407.6 1177.5 L409.4 1177.5 L411.1 1177.5 L412.8 1177.5 L414.6 1177.5 L416.3 1177.5 L418.1 1177.5 L419.8 1177.5 L421.5 1177.5 L423.3 1177.5 L425.0 1177.5 L426.7 1177.5 L428.5 1177.5 L430.2 1177.5 L431.9 1177.5 L433.7 1177.5 L435.4 1177.5 L437.2 1177.5 L438.9 1177.5 L440.6 1177.5 L442.4 1177.5 L444.1 1177.5 L445.8 1177.5 L447.6 1177.5 L449.3 1177.5 L451.0 1177.5 L452.8 1177.5 L454.5 1177.5 L456.3 1177.5 L458.0 1177.5 L459.7 1177.5 L461.5 1177.5 L463.2 1177.5 L464.9 1177.5 L466.7 1177.5 L468.4 1177.5 L470.1 1177.5 L471.9 1177.5 L473.6 1177.5 L475.4 1177.5 L477.1 1177.5 L478.8 1177.5 L480.6 1177.5 L482.3 1177.5 L484.0 1177.5 L485.8 1177.5 L487.5 1177.5 L489.2 1177.5 L491.0 1177.5 L492.7 1177.5 L494.5 1177.5 L496.2 1177.5 L497.9 1177.5 L499.7 1177.5 L501.4 1177.5 L503.1 1177.5 L504.9 1177.5 L506.6 1177.5 L508.3 1177.5 L510.1 1177.5 L511.8 1177.5 L513.6 1177.5 L515.3 1177.5 L517.0 1177.5 L518.8 1177.5 L520.5 1177.5 L522.2 1177.5 L524.0 1177.5 L525.7 1177.5 L527.4 1177.5 L529.2 1177.5 L530.9 1177.5 L532.7 1177.5 L534.4 1177.5 L536.1 1177.5 L537.9 1177.5 L539.6 1177.5 L541.3 1177.5 L543.1 1177.5 L544.8 1177.5 L546.6 1177.5 L548.3 1177.5 L550.0 1177.5 L551.8 1177.5 L553.5 1177.5 L555.2 1177.5 L557.0 1177.5 L558.7 1177.5 L560.4 1177.5 L562.2 1177.5 L563.9 1177.5 L565.7 1177.5 L567.4 1177.5 L569.1 1177.5 L570.9 1177.5 L572.6 1177.5 L574.3 1177.5 L576.1 1177.5 L577.8 1177.5 L579.5 1177.5 L581.3 1177.5 L583.0 1177.5 L584.8 1177.5 L586.5 1177.5 L588.2 1177.5 L590.0 1177.4 L591.7 1177.4 L593.4 1177.4 L595.2 1177.4 L596.9 1177.4 L598.6 1177.4 L600.4 1177.4 L602.1 1177.4 L603.9 1177.4 L605.6 1177.4 L607.3 1177.4 L609.1 1177.4 L610.8 1177.4 L612.5 1177.4 L614.3 1177.4 L616.0 1177.3 L617.7 1177.3 L619.5 1177.3 L621.2 1177.3 L623.0 1177.3 L624.7 1177.3 L626.4 1177.3 L628.2 1177.2 L629.9 1177.2 L631.6 1177.2 L633.4 1177.2 L635.1 1177.2 L636.8 1177.1 L638.6 1177.1 L640.3 1177.1 L642.1 1177.1 L643.8 1177.0 L645.5 1177.0 L647.3 1177.0 L649.0 1176.9 L650.7 1176.9 L652.5 1176.9 L654.2 1176.8 L656.0 1176.8 L657.7 1176.7 L659.4 1176.7 L661.2 1176.6 L662.9 1176.6 L664.6 1176.5 L666.4 1176.5 L668.1 1176.4 L669.8 1176.3 L671.6 1176.3 L673.3 1176.2 L675.1 1176.1 L676.8 1176.0 L678.5 1176.0 L680.3 1175.9 L682.0 1175.8 L683.7 1175.7 L685.5 1175.6 L687.2 1175.5 L688.9 1175.4 L690.7 1175.2 L692.4 1175.1 L694.2 1175.0 L695.9 1174.9 L697.6 1174.7 L699.4 1174.6 L701.1 1174.4 L702.8 1174.3 L704.6 1174.1 L706.3 1173.9 L708.0 1173.8 L709.8 1173.6 L711.5 1173.4 L713.3 1173.2 L715.0 1173.0 L716.7 1172.7 L718.5 1172.5 L720.2 1172.3 L721.9 1172.0 L723.7 1171.8 L725.4 1171.5 L727.1 1171.2 L728.9 1170.9 L730.6 1170.7 L732.4 1170.3 L734.1 1170.0 L735.8 1169.7 L737.6 1169.4 L739.3 1169.0 L741.0 1168.7 L742.8 1168.3 L744.5 1167.9 L746.2 1167.5 L748.0 1167.1 L749.7 1166.7 L751.5 1166.3 L753.2 1165.8 L754.9 1165.4 L756.7 1164.9 L758.4 1164.4 L760.1 1163.9 L761.9 1163.4 L763.6 1162.9 L765.4 1162.3 L767.1 1161.8 L768.8 1161.2 L770.6 1160.6 L772.3 1160.1 L774.0 1159.5 L775.8 1158.8 L777.5 1158.2 L779.2 1157.6 L781.0 1156.9 L782.7 1156.2 L784.5 1155.6 L786.2 1154.9 L787.9 1154.2 L789.7 1153.4 L791.4 1152.7 L793.1 1152.0 L794.9 1151.2 L796.6 1150.4 L798.3 1149.7 L800.1 1148.9 L801.8 1148.1 L803.6 1147.3 L805.3 1146.4 L807.0 1145.6 L808.8 1144.8 L810.5 1143.9 L812.2 1143.1 L814.0 1142.2 L815.7 1141.3 L817.4 1140.5 L819.2 1139.6 L820.9 1138.7 L822.7 1137.8 L824.4 1136.9 L826.1 1136.0 L827.9 1135.1 L829.6 1134.2 L831.3 1133.3 L833.1 1132.4 L834.8 1131.5 L836.5 1130.6 L838.3 1129.6 L840.0 1128.7 L841.8 1127.8 L843.5 1126.9 L845.2 1126.0 L847.0 1125.2 L848.7 1124.3 L850.4 1123.4 L852.2 1122.5 L853.9 1121.7 L855.6 1120.8 L857.4 1120.0 L859.1 1119.1 L860.9 1118.3 L862.6 1117.5 L864.3 1116.7 L866.1 1115.9 L867.8 1115.2 L869.5 1114.4 L871.3 1113.7 L873.0 1113.0 L874.7 1112.3 L876.5 1111.6 L878.2 1110.9 L880.0 1110.3 L881.7 1109.7 L883.4 1109.1 L885.2 1108.5 L886.9 1107.9 L888.6 1107.4 L890.4 1106.9 L892.1 1106.4 L893.9 1106.0 L895.6 1105.5 L897.3 1105.1 L899.1 1104.8 L900.8 1104.4 L902.5 1104.1 L904.3 1103.8 L906.0 1103.6 L907.7 1103.3 L909.5 1103.1 L911.2 1102.9 L913.0 1102.8 L914.7 1102.7 L916.4 1102.6 L918.2 1102.5 L919.9 1102.5 L921.6 1102.5 L923.4 1102.5 L925.1 1102.6 L926.8 1102.7 L928.6 1102.8 L930.3 1102.9 L932.1 1103.1 L933.8 1103.3 L935.5 1103.5 L937.3 1103.7 L939.0 1104.0 L940.7 1104.3 L942.5 1104.6 L944.2 1105.0 L945.9 1105.3 L947.7 1105.7 L949.4 1106.2 L951.2 1106.6 L952.9 1107.1 L954.6 1107.5 L956.4 1108.1 L958.1 1108.6 L959.8 1109.1 L961.6 1109.7 L963.3 1110.3 L965.0 1110.9 L966.8 1111.5 L968.5 1112.2 L970.3 1112.8 L972.0 1113.5 L973.7 1114.2 L975.5 1114.9 L977.2 1115.7 L978.9 1116.4 L980.7 1117.1 L982.4 1117.9 L984.1 1118.7 L985.9 1119.5 L987.6 1120.3 L989.4 1121.1 L991.1 1121.9 L992.8 1122.7 L994.6 1123.5 L996.3 1124.4 L998.0 1125.2 L999.8 1126.1 L1001.5 1126.9 L1003.3 1127.8 L1005.0 1128.6 L1006.7 1129.5 L1008.5 1130.4 L1010.2 1131.2 L1011.9 1132.1 L1013.7 1133.0 L1015.4 1133.8 L1017.1 1134.7 L1018.9 1135.6 L1020.6 1136.4 L1022.4 1137.3 L1024.1 1138.1 L1025.8 1139.0 L1027.6 1139.8 L1029.3 1140.7 L1031.0 1141.5 L1032.8 1142.3 L1034.5 1143.1 L1036.2 1144.0 L1038.0 1144.8 L1039.7 1145.6 L1041.5 1146.4 L1043.2 1147.1 L1044.9 1147.9 L1046.7 1148.7 L1048.4 1149.4 L1050.1 1150.2 L1051.9 1150.9 L1053.6 1151.6 L1055.3 1152.3 L1057.1 1153.0 L1058.8 1153.7 L1060.6 1154.4 L1062.3 1155.1 L1064.0 1155.7 L1065.8 1156.4 L1067.5 1157.0 L1069.2 1157.6 L1071.0 1158.3 L1072.7 1158.9 L1074.4 1159.4 L1076.2 1160.0 L1077.9 1160.6 L1079.7 1161.1 L1081.4 1161.7 L1083.1 1162.2 L1084.9 1162.7 L1086.6 1163.2 L1088.3 1163.7 L1090.1 1164.2 L1091.8 1164.6 L1093.5 1165.1 L1095.3 1165.5 L1097.0 1166.0 L1098.8 1166.4 L1100.5 1166.8 L1102.2 1167.2 L1104.0 1167.6 L1105.7 1168.0 L1107.4 1168.3 L1109.2 1168.7 L1110.9 1169.0 L1112.7 1169.3 L1114.4 1169.7 L1116.1 1170.0 L1117.9 1170.3 L1119.6 1170.6 L1121.3 1170.9 L1123.1 1171.1 L1124.8 1171.4 L1126.5 1171.7 L1128.3 1171.9 L1130.0 1172.1 L1131.8 1172.4 L1133.5 1172.6 L1135.2 1172.8 L1137.0 1173.0 L1138.7 1173.2 L1140.4 1173.4 L1142.2 1173.6 L1143.9 1173.8 L1145.6 1173.9 L1147.4 1174.1 L1149.1 1174.3 L1150.9 1174.4 L1152.6 1174.6 L1154.3 1174.7 L1156.1 1174.8 L1157.8 1175.0 L1159.5 1175.1 L1161.3 1175.2 L1163.0 1175.3 L1164.7 1175.4 L1166.5 1175.5 L1168.2 1175.6 L1170.0 1175.7 L1171.7 1175.8 L1173.4 1175.9 L1175.2 1176.0 L1176.9 1176.1 L1178.6 1176.1 L1180.4 1176.2 L1182.1 1176.3 L1183.8 1176.3 L1185.6 1176.4 L1187.3 1176.5 L1189.1 1176.5 L1190.8 1176.6 L1192.5 1176.6 L1194.3 1176.7 L1196.0 1176.7 L1197.7 1176.8 L1199.5 1176.8 L1201.2 1176.8 L1202.9 1176.9 L1204.7 1176.9 L1206.4 1176.9 L1208.2 1177.0 L1209.9 1177.0 L1211.6 1177.0 L1213.4 1177.1 L1215.1 1177.1 L1216.8 1177.1 L1218.6 1177.1 L1220.3 1177.2 L1222.0 1177.2 L1223.8 1177.2 L1225.5 1177.2 L1227.3 1177.2 L1229.0 1177.3 L1230.7 1177.3 L1232.5 1177.3 L1234.2 1177.3 L1235.9 1177.3 L1237.7 1177.3 L1239.4 1177.3 L1241.2 1177.3 L1242.9 1177.4 L1244.6 1177.4 L1246.4 1177.4 L1248.1 1177.4 L1249.8 1177.4 L1251.6 1177.4 L1253.3 1177.4 L1255.0 1177.4 L1256.8 1177.4 L1258.5 1177.4 L1260.3 1177.4 L1262.0 1177.4 L1263.7 1177.4 L1265.5 1177.4 L1267.2 1177.4 L1268.9 1177.4 L1270.7 1177.5 L1272.4 1177.5 L1274.1 1177.5 L1275.9 1177.5 L1277.6 1177.5 L1279.4 1177.5 L1281.1 1177.5 L1282.8 1177.5 L1284.6 1177.5 L1286.3 1177.5 L1288.0 1177.5 L1289.8 1177.5 L1291.5 1177.5 L1293.2 1177.5 L1295.0 1177.5 L1296.7 1177.5 L1298.5 1177.5 L1300.2 1177.5 L1301.9 1177.5 L1303.7 1177.5 L1305.4 1177.5 L1307.1 1177.5 L1308.9 1177.5 L1310.6 1177.5 L1312.3 1177.5 L1314.1 1177.5 L1315.8 1177.5 L1317.6 1177.5 L1319.3 1177.5 L1321.0 1177.5 L1322.8 1177.5 L1324.5 1177.5 L1326.2 1177.5 L1328.0 1177.5 L1329.7 1177.5 L1331.4 1177.5 L1333.2 1177.5 L1334.9 1177.5 L1336.7 1177.5 L1338.4 1177.5 L1340.1 1177.5 L1341.9 1177.5 L1343.6 1177.5 L1345.3 1177.5 L1347.1 1177.5 L1348.8 1177.5 L1350.6 1177.5 L1352.3 1177.5 L1354.0 1177.5 L1355.8 1177.5 L1357.5 1177.5 L1359.2 1177.5 L1361.0 1177.5 L1362.7 1177.5 L1364.4 1177.5 L1366.2 1177.5 L1367.9 1177.5 L1369.7 1177.5 L1371.4 1177.5 L1373.1 1177.5 L1374.9 1177.5 L1376.6 1177.5 L1378.3 1177.5 L1380.1 1177.5 L1381.8 1177.5 L1383.5 1177.5 L1385.3 1177.5 L1387.0 1177.5 L1388.8 1177.5 L1390.5 1177.5 L1392.2 1177.5 L1394.0 1177.5 L1395.7 1177.5 L1397.4 1177.5 L1399.2 1177.5 L1400.9 1177.5 L1402.6 1177.5 L1404.4 1177.5 L1406.1 1177.5 L1407.9 1177.5 L1409.6 1177.5 L1411.3 1177.5 L1413.1 1177.5 L1414.8 1177.5 L1416.5 1177.5 L1418.3 1177.5 L1420.0 1177.5 L1421.7 1177.5 L1423.5 1177.5 L1425.2 1177.5 L1427.0 1177.5 L1428.7 1177.5 L1430.4 1177.5 L1432.2 1177.5" stroke="#EE3B40" stroke-width="7" fill="none" stroke-linejoin="round"/>
<path d="M277.4 1177.5 L279.1 1177.5 L280.9 1177.5 L282.6 1177.5 L284.3 1177.5 L286.1 1177.5 L287.8 1177.5 L289.5 1177.5 L291.3 1177.5 L293.0 1177.5 L294.8 1177.5 L296.5 1177.5 L298.2 1177.5 L300.0 1177.5 L301.7 1177.5 L303.4 1177.5 L305.2 1177.5 L306.9 1177.5 L308.7 1177.5 L310.4 1177.5 L312.1 1177.5 L313.9 1177.5 L315.6 1177.5 L317.3 1177.5 L319.1 1177.5 L320.8 1177.5 L322.5 1177.5 L324.3 1177.5 L326.0 1177.5 L327.8 1177.5 L329.5 1177.5 L331.2 1177.5 L333.0 1177.5 L334.7 1177.5 L336.4 1177.5 L338.2 1177.5 L339.9 1177.5 L341.6 1177.5 L343.4 1177.5 L345.1 1177.5 L346.9 1177.5 L348.6 1177.5 L350.3 1177.5 L352.1 1177.5 L353.8 1177.5 L355.5 1177.5 L357.3 1177.5 L359.0 1177.5 L360.7 1177.5 L362.5 1177.5 L364.2 1177.5 L366.0 1177.5 L367.7 1177.5 L369.4 1177.5 L371.2 1177.5 L372.9 1177.5 L374.6 1177.5 L376.4 1177.5 L378.1 1177.5 L379.8 1177.5 L381.6 1177.5 L383.3 1177.5 L385.1 1177.5 L386.8 1177.5 L388.5 1177.5 L390.3 1177.5 L392.0 1177.5 L393.7 1177.5 L395.5 1177.5 L397.2 1177.5 L398.9 1177.5 L400.7 1177.5 L402.4 1177.5 L404.2 1177.5 L405.9 1177.5 L407.6 1177.5 L409.4 1177.5 L411.1 1177.5 L412.8 1177.5 L414.6 1177.5 L416.3 1177.5 L418.1 1177.5 L419.8 1177.5 L421.5 1177.5 L423.3 1177.5 L425.0 1177.5 L426.7 1177.5 L428.5 1177.5 L430.2 1177.5 L431.9 1177.5 L433.7 1177.5 L435.4 1177.5 L437.2 1177.5 L438.9 1177.5 L440.6 1177.5 L442.4 1177.5 L444.1 1177.5 L445.8 1177.5 L447.6 1177.5 L449.3 1177.5 L451.0 1177.5 L452.8 1177.5 L454.5 1177.5 L456.3 1177.5 L458.0 1177.5 L459.7 1177.5 L461.5 1177.5 L463.2 1177.5 L464.9 1177.5 L466.7 1177.5 L468.4 1177.5 L470.1 1177.5 L471.9 1177.5 L473.6 1177.5 L475.4 1177.5 L477.1 1177.5 L478.8 1177.5 L480.6 1177.5 L482.3 1177.5 L484.0 1177.5 L485.8 1177.5 L487.5 1177.5 L489.2 1177.5 L491.0 1177.5 L492.7 1177.5 L494.5 1177.5 L496.2 1177.5 L497.9 1177.5 L499.7 1177.5 L501.4 1177.5 L503.1 1177.5 L504.9 1177.5 L506.6 1177.5 L508.3 1177.5 L510.1 1177.5 L511.8 1177.5 L513.6 1177.5 L515.3 1177.5 L517.0 1177.5 L518.8 1177.5 L520.5 1177.5 L522.2 1177.5 L524.0 1177.5 L525.7 1177.5 L527.4 1177.5 L529.2 1177.5 L530.9 1177.5 L532.7 1177.5 L534.4 1177.5 L536.1 1177.5 L537.9 1177.5 L539.6 1177.5 L541.3 1177.5 L543.1 1177.5 L544.8 1177.5 L546.6 1177.5 L548.3 1177.5 L550.0 1177.5 L551.8 1177.5 L553.5 1177.5 L555.2 1177.5 L557.0 1177.5 L558.7 1177.5 L560.4 1177.5 L562.2 1177.5 L563.9 1177.5 L565.7 1177.5 L567.4 1177.5 L569.1 1177.5 L570.9 1177.5 L572.6 1177.5 L574.3 1177.5 L576.1 1177.5 L577.8 1177.5 L579.5 1177.5 L581.3 1177.5 L583.0 1177.5 L584.8 1177.5 L586.5 1177.5 L588.2 1177.5 L590.0 1177.5 L591.7 1177.5 L593.4 1177.5 L595.2 1177.5 L596.9 1177.5 L598.6 1177.5 L600.4 1177.5 L602.1 1177.5 L603.9 1177.5 L605.6 1177.5 L607.3 1177.5 L609.1 1177.5 L610.8 1177.5 L612.5 1177.5 L614.3 1177.5 L616.0 1177.5 L617.7 1177.5 L619.5 1177.5 L621.2 1177.5 L623.0 1177.5 L624.7 1177.5 L626.4 1177.5 L628.2 1177.5 L629.9 1177.5 L631.6 1177.5 L633.4 1177.5 L635.1 1177.5 L636.8 1177.5 L638.6 1177.5 L640.3 1177.5 L642.1 1177.5 L643.8 1177.5 L645.5 1177.5 L647.3 1177.5 L649.0 1177.5 L650.7 1177.5 L652.5 1177.5 L654.2 1177.5 L656.0 1177.5 L657.7 1177.5 L659.4 1177.5 L661.2 1177.5 L662.9 1177.5 L664.6 1177.5 L666.4 1177.5 L668.1 1177.5 L669.8 1177.5 L671.6 1177.5 L673.3 1177.5 L675.1 1177.5 L676.8 1177.5 L678.5 1177.5 L680.3 1177.5 L682.0 1177.5 L683.7 1177.5 L685.5 1177.5 L687.2 1177.5 L688.9 1177.5 L690.7 1177.5 L692.4 1177.5 L694.2 1177.5 L695.9 1177.5 L697.6 1177.5 L699.4 1177.5 L701.1 1177.5 L702.8 1177.5 L704.6 1177.5 L706.3 1177.5 L708.0 1177.5 L709.8 1177.5 L711.5 1177.5 L713.3 1177.5 L715.0 1177.5 L716.7 1177.5 L718.5 1177.5 L720.2 1177.5 L721.9 1177.5 L723.7 1177.5 L725.4 1177.5 L727.1 1177.5 L728.9 1177.4 L730.6 1177.4 L732.4 1177.4 L734.1 1177.4 L735.8 1177.4 L737.6 1177.4 L739.3 1177.4 L741.0 1177.4 L742.8 1177.4 L744.5 1177.4 L746.2 1177.4 L748.0 1177.4 L749.7 1177.4 L751.5 1177.4 L753.2 1177.3 L754.9 1177.3 L756.7 1177.3 L758.4 1177.3 L760.1 1177.3 L761.9 1177.3 L763.6 1177.3 L765.4 1177.3 L767.1 1177.2 L768.8 1177.2 L770.6 1177.2 L772.3 1177.2 L774.0 1177.2 L775.8 1177.1 L777.5 1177.1 L779.2 1177.1 L781.0 1177.0 L782.7 1177.0 L784.5 1177.0 L786.2 1176.9 L787.9 1176.9 L789.7 1176.9 L791.4 1176.8 L793.1 1176.8 L794.9 1176.7 L796.6 1176.7 L798.3 1176.6 L800.1 1176.6 L801.8 1176.5 L803.6 1176.5 L805.3 1176.4 L807.0 1176.3 L808.8 1176.3 L810.5 1176.2 L812.2 1176.1 L814.0 1176.0 L815.7 1175.9 L817.4 1175.8 L819.2 1175.7 L820.9 1175.6 L822.7 1175.5 L824.4 1175.4 L826.1 1175.3 L827.9 1175.1 L829.6 1175.0 L831.3 1174.9 L833.1 1174.7 L834.8 1174.6 L836.5 1174.4 L838.3 1174.2 L840.0 1174.0 L841.8 1173.8 L843.5 1173.6 L845.2 1173.4 L847.0 1173.2 L848.7 1173.0 L850.4 1172.7 L852.2 1172.5 L853.9 1172.2 L855.6 1171.9 L857.4 1171.7 L859.1 1171.4 L860.9 1171.0 L862.6 1170.7 L864.3 1170.4 L866.1 1170.0 L867.8 1169.7 L869.5 1169.3 L871.3 1168.9 L873.0 1168.4 L874.7 1168.0 L876.5 1167.6 L878.2 1167.1 L880.0 1166.6 L881.7 1166.1 L883.4 1165.6 L885.2 1165.0 L886.9 1164.4 L888.6 1163.9 L890.4 1163.2 L892.1 1162.6 L893.9 1162.0 L895.6 1161.3 L897.3 1160.6 L899.1 1159.8 L900.8 1159.1 L902.5 1158.3 L904.3 1157.5 L906.0 1156.7 L907.7 1155.8 L909.5 1155.0 L911.2 1154.0 L913.0 1153.1 L914.7 1152.1 L916.4 1151.1 L918.2 1150.1 L919.9 1149.1 L921.6 1148.0 L923.4 1146.9 L925.1 1145.7 L926.8 1144.5 L928.6 1143.3 L930.3 1142.1 L932.1 1140.8 L933.8 1139.5 L935.5 1138.2 L937.3 1136.8 L939.0 1135.4 L940.7 1134.0 L942.5 1132.5 L944.2 1131.0 L945.9 1129.4 L947.7 1127.9 L949.4 1126.3 L951.2 1124.6 L952.9 1123.0 L954.6 1121.2 L956.4 1119.5 L958.1 1117.7 L959.8 1115.9 L961.6 1114.1 L963.3 1112.2 L965.0 1110.3 L966.8 1108.4 L968.5 1106.5 L970.3 1104.5 L972.0 1102.5 L973.7 1100.4 L975.5 1098.3 L977.2 1096.2 L978.9 1094.1 L980.7 1092.0 L982.4 1089.8 L984.1 1087.6 L985.9 1085.3 L987.6 1083.1 L989.4 1080.8 L991.1 1078.6 L992.8 1076.2 L994.6 1073.9 L996.3 1071.6 L998.0 1069.2 L999.8 1066.9 L1001.5 1064.5 L1003.3 1062.1 L1005.0 1059.7 L1006.7 1057.3 L1008.5 1054.9 L1010.2 1052.5 L1011.9 1050.1 L1013.7 1047.6 L1015.4 1045.2 L1017.1 1042.8 L1018.9 1040.4 L1020.6 1038.0 L1022.4 1035.6 L1024.1 1033.2 L1025.8 1030.8 L1027.6 1028.5 L1029.3 1026.1 L1031.0 1023.8 L1032.8 1021.5 L1034.5 1019.2 L1036.2 1016.9 L1038.0 1014.7 L1039.7 1012.5 L1041.5 1010.3 L1043.2 1008.1 L1044.9 1006.0 L1046.7 1003.9 L1048.4 1001.9 L1050.1 999.8 L1051.9 997.9 L1053.6 995.9 L1055.3 994.0 L1057.1 992.2 L1058.8 990.4 L1060.6 988.7 L1062.3 987.0 L1064.0 985.3 L1065.8 983.7 L1067.5 982.2 L1069.2 980.7 L1071.0 979.3 L1072.7 977.9 L1074.4 976.7 L1076.2 975.4 L1077.9 974.2 L1079.7 973.1 L1081.4 972.1 L1083.1 971.1 L1084.9 970.2 L1086.6 969.4 L1088.3 968.6 L1090.1 967.9 L1091.8 967.3 L1093.5 966.8 L1095.3 966.3 L1097.0 965.9 L1098.8 965.6 L1100.5 965.3 L1102.2 965.1 L1104.0 965.0 L1105.7 965.0 L1107.4 965.0 L1109.2 965.2 L1110.9 965.4 L1112.7 965.6 L1114.4 966.0 L1116.1 966.4 L1117.9 966.8 L1119.6 967.4 L1121.3 968.0 L1123.1 968.7 L1124.8 969.5 L1126.5 970.3 L1128.3 971.2 L1130.0 972.2 L1131.8 973.2 L1133.5 974.3 L1135.2 975.5 L1137.0 976.7 L1138.7 978.0 L1140.4 979.4 L1142.2 980.8 L1143.9 982.3 L1145.6 983.8 L1147.4 985.4 L1149.1 987.0 L1150.9 988.7 L1152.6 990.4 L1154.3 992.2 L1156.1 994.0 L1157.8 995.9 L1159.5 997.8 L1161.3 999.8 L1163.0 1001.8 L1164.7 1003.8 L1166.5 1005.9 L1168.2 1008.0 L1170.0 1010.1 L1171.7 1012.3 L1173.4 1014.5 L1175.2 1016.7 L1176.9 1019.0 L1178.6 1021.2 L1180.4 1023.5 L1182.1 1025.8 L1183.8 1028.2 L1185.6 1030.5 L1187.3 1032.9 L1189.1 1035.2 L1190.8 1037.6 L1192.5 1040.0 L1194.3 1042.4 L1196.0 1044.8 L1197.7 1047.2 L1199.5 1049.6 L1201.2 1052.0 L1202.9 1054.4 L1204.7 1056.8 L1206.4 1059.1 L1208.2 1061.5 L1209.9 1063.9 L1211.6 1066.3 L1213.4 1068.6 L1215.1 1071.0 L1216.8 1073.3 L1218.6 1075.6 L1220.3 1077.9 L1222.0 1080.2 L1223.8 1082.4 L1225.5 1084.6 L1227.3 1086.9 L1229.0 1089.1 L1230.7 1091.2 L1232.5 1093.4 L1234.2 1095.5 L1235.9 1097.6 L1237.7 1099.6 L1239.4 1101.7 L1241.2 1103.7 L1242.9 1105.6 L1244.6 1107.6 L1246.4 1109.5 L1248.1 1111.4 L1249.8 1113.2 L1251.6 1115.1 L1253.3 1116.9 L1255.0 1118.6 L1256.8 1120.3 L1258.5 1122.0 L1260.3 1123.7 L1262.0 1125.3 L1263.7 1126.9 L1265.5 1128.5 L1267.2 1130.0 L1268.9 1131.5 L1270.7 1133.0 L1272.4 1134.4 L1274.1 1135.8 L1275.9 1137.2 L1277.6 1138.5 L1279.4 1139.8 L1281.1 1141.1 L1282.8 1142.4 L1284.6 1143.6 L1286.3 1144.7 L1288.0 1145.9 L1289.8 1147.0 L1291.5 1148.1 L1293.2 1149.1 L1295.0 1150.2 L1296.7 1151.2 L1298.5 1152.1 L1300.2 1153.1 L1301.9 1154.0 L1303.7 1154.9 L1305.4 1155.7 L1307.1 1156.6 L1308.9 1157.4 L1310.6 1158.1 L1312.3 1158.9 L1314.1 1159.6 L1315.8 1160.3 L1317.6 1161.0 L1319.3 1161.7 L1321.0 1162.3 L1322.8 1162.9 L1324.5 1163.5 L1326.2 1164.1 L1328.0 1164.6 L1329.7 1165.1 L1331.4 1165.7 L1333.2 1166.1 L1334.9 1166.6 L1336.7 1167.1 L1338.4 1167.5 L1340.1 1167.9 L1341.9 1168.3 L1343.6 1168.7 L1345.3 1169.1 L1347.1 1169.5 L1348.8 1169.8 L1350.6 1170.2 L1352.3 1170.5 L1354.0 1170.8 L1355.8 1171.1 L1357.5 1171.4 L1359.2 1171.7 L1361.0 1171.9 L1362.7 1172.2 L1364.4 1172.4 L1366.2 1172.6 L1367.9 1172.8 L1369.7 1173.1 L1371.4 1173.2 L1373.1 1173.4 L1374.9 1173.6 L1376.6 1173.8 L1378.3 1174.0 L1380.1 1174.1 L1381.8 1174.3 L1383.5 1174.4 L1385.3 1174.5 L1387.0 1174.7 L1388.8 1174.8 L1390.5 1174.9 L1392.2 1175.0 L1394.0 1175.1 L1395.7 1175.2 L1397.4 1175.3 L1399.2 1175.4 L1400.9 1175.5 L1402.6 1175.6 L1404.4 1175.6 L1406.1 1175.7 L1407.9 1175.8 L1409.6 1175.9 L1411.3 1175.9 L1413.1 1176.0 L1414.8 1176.0 L1416.5 1176.1 L1418.3 1176.1 L1420.0 1176.2 L1421.7 1176.2 L1423.5 1176.3 L1425.2 1176.3 L1427.0 1176.3 L1428.7 1176.4 L1430.4 1176.4 L1432.2 1176.4 L1433.9 1176.5 L1435.6 1176.5 L1437.4 1176.5 L1439.1 1176.5 L1440.8 1176.6 L1442.6 1176.6 L1444.3 1176.6 L1446.1 1176.6 L1447.8 1176.6 L1449.5 1176.7 L1451.3 1176.7 L1453.0 1176.7 L1454.7 1176.7 L1456.5 1176.7 L1458.2 1176.7 L1460.0 1176.7 L1461.7 1176.8 L1463.4 1176.8 L1465.2 1176.8 L1466.9 1176.8 L1468.6 1176.8 L1470.4 1176.8 L1472.1 1176.8 L1473.8 1176.8 L1475.6 1176.8 L1477.3 1176.8 L1479.1 1176.8 L1480.8 1176.8 L1482.5 1176.8 L1484.3 1176.8 L1485.5 1176.8" stroke="#1A6BDC" stroke-width="7" fill="none" stroke-linejoin="round"/>
<path d="M277.4 1172.9 L279.1 1172.5 L280.9 1172.1 L282.6 1171.7 L284.3 1171.3 L286.1 1170.9 L287.8 1170.4 L289.5 1169.9 L291.3 1169.3 L293.0 1168.7 L294.8 1168.1 L296.5 1167.5 L298.2 1166.8 L300.0 1166.1 L301.7 1165.3 L303.4 1164.5 L305.2 1163.6 L306.9 1162.7 L308.7 1161.7 L310.4 1160.7 L312.1 1159.7 L313.9 1158.5 L315.6 1157.4 L317.3 1156.1 L319.1 1154.8 L320.8 1153.4 L322.5 1152.0 L324.3 1150.5 L326.0 1148.9 L327.8 1147.3 L329.5 1145.5 L331.2 1143.7 L333.0 1141.9 L334.7 1139.9 L336.4 1137.8 L338.2 1135.7 L339.9 1133.5 L341.6 1131.2 L343.4 1128.7 L345.1 1126.2 L346.9 1123.6 L348.6 1120.9 L350.3 1118.2 L352.1 1115.3 L353.8 1112.3 L355.5 1109.2 L357.3 1106.0 L359.0 1102.7 L360.7 1099.2 L362.5 1095.7 L364.2 1092.1 L366.0 1088.4 L367.7 1084.5 L369.4 1080.6 L371.2 1076.6 L372.9 1072.4 L374.6 1068.2 L376.4 1063.8 L378.1 1059.3 L379.8 1054.8 L381.6 1050.1 L383.3 1045.4 L385.1 1040.5 L386.8 1035.6 L388.5 1030.5 L390.3 1025.4 L392.0 1020.2 L393.7 1015.0 L395.5 1009.6 L397.2 1004.2 L398.9 998.7 L400.7 993.2 L402.4 987.6 L404.2 981.9 L405.9 976.2 L407.6 970.5 L409.4 964.7 L411.1 958.9 L412.8 953.1 L414.6 947.3 L416.3 941.4 L418.1 935.6 L419.8 929.7 L421.5 923.9 L423.3 918.1 L425.0 912.3 L426.7 906.6 L428.5 900.9 L430.2 895.3 L431.9 889.7 L433.7 884.2 L435.4 878.8 L437.2 873.4 L438.9 868.2 L440.6 863.0 L442.4 858.0 L444.1 853.0 L445.8 848.2 L447.6 843.6 L449.3 839.0 L451.0 834.6 L452.8 830.4 L454.5 826.4 L456.3 822.5 L458.0 818.7 L459.7 815.2 L461.5 811.8 L463.2 808.7 L464.9 805.7 L466.7 803.0 L468.4 800.4 L470.1 798.1 L471.9 796.0 L473.6 794.1 L475.4 792.4 L477.1 791.0 L478.8 789.8 L480.6 788.8 L482.3 788.1 L484.0 787.6 L485.8 787.3 L487.5 787.3 L489.2 787.5 L491.0 788.0 L492.7 788.7 L494.5 789.6 L496.2 790.8 L497.9 792.1 L499.7 793.8 L501.4 795.6 L503.1 797.7 L504.9 800.0 L506.6 802.5 L508.3 805.2 L510.1 808.1 L511.8 811.2 L513.6 814.5 L515.3 818.0 L517.0 821.7 L518.8 825.6 L520.5 829.6 L522.2 833.8 L524.0 838.1 L525.7 842.6 L527.4 847.3 L529.2 852.1 L530.9 857.0 L532.7 862.0 L534.4 867.1 L536.1 872.3 L537.9 877.7 L539.6 883.1 L541.3 888.6 L543.1 894.2 L544.8 899.8 L546.6 905.5 L548.3 911.2 L550.0 916.9 L551.8 922.7 L553.5 928.6 L555.2 934.4 L557.0 940.2 L558.7 946.1 L560.4 951.9 L562.2 957.7 L563.9 963.5 L565.7 969.3 L567.4 975.1 L569.1 980.8 L570.9 986.4 L572.6 992.0 L574.3 997.6 L576.1 1003.1 L577.8 1008.5 L579.5 1013.9 L581.3 1019.2 L583.0 1024.4 L584.8 1029.5 L586.5 1034.5 L588.2 1039.5 L590.0 1044.3 L591.7 1049.1 L593.4 1053.8 L595.2 1058.4 L596.9 1062.8 L598.6 1067.2 L600.4 1071.5 L602.1 1075.6 L603.9 1079.7 L605.6 1083.7 L607.3 1087.5 L609.1 1091.2 L610.8 1094.9 L612.5 1098.4 L614.3 1101.8 L616.0 1105.1 L617.7 1108.4 L619.5 1111.5 L621.2 1114.5 L623.0 1117.4 L624.7 1120.2 L626.4 1122.9 L628.2 1125.5 L629.9 1128.0 L631.6 1130.4 L633.4 1132.7 L635.1 1134.9 L636.8 1137.1 L638.6 1139.1 L640.3 1141.1 L642.1 1142.9 L643.8 1144.7 L645.5 1146.4 L647.3 1148.1 L649.0 1149.6 L650.7 1151.1 L652.5 1152.5 L654.2 1153.9 L656.0 1155.1 L657.7 1156.3 L659.4 1157.5 L661.2 1158.6 L662.9 1159.6 L664.6 1160.6 L666.4 1161.5 L668.1 1162.3 L669.8 1163.1 L671.6 1163.9 L673.3 1164.6 L675.1 1165.3 L676.8 1165.9 L678.5 1166.5 L680.3 1167.0 L682.0 1167.5 L683.7 1167.9 L685.5 1168.4 L687.2 1168.7 L688.9 1169.1 L690.7 1169.4 L692.4 1169.7 L694.2 1169.9 L695.9 1170.2 L697.6 1170.3 L699.4 1170.5 L701.1 1170.7 L702.8 1170.8 L704.6 1170.9 L706.3 1170.9 L708.0 1171.0 L709.8 1171.0 L711.5 1171.0 L713.3 1171.0 L715.0 1170.9 L716.7 1170.8 L718.5 1170.8 L720.2 1170.7 L721.9 1170.5 L723.7 1170.4 L725.4 1170.2 L727.1 1170.0 L728.9 1169.8 L730.6 1169.6 L732.4 1169.4 L734.1 1169.2 L735.8 1168.9 L737.6 1168.6 L739.3 1168.3 L741.0 1168.0 L742.8 1167.7 L744.5 1167.3 L746.2 1167.0 L748.0 1166.6 L749.7 1166.2 L751.5 1165.8 L753.2 1165.4 L754.9 1164.9 L756.7 1164.5 L758.4 1164.0 L760.1 1163.5 L761.9 1163.0 L763.6 1162.5 L765.4 1161.9 L767.1 1161.4 L768.8 1160.8 L770.6 1160.2 L772.3 1159.6 L774.0 1159.0 L775.8 1158.4 L777.5 1157.7 L779.2 1157.1 L781.0 1156.4 L782.7 1155.7 L784.5 1155.0 L786.2 1154.3 L787.9 1153.5 L789.7 1152.8 L791.4 1152.0 L793.1 1151.2 L794.9 1150.4 L796.6 1149.6 L798.3 1148.8 L800.1 1147.9 L801.8 1147.1 L803.6 1146.2 L805.3 1145.3 L807.0 1144.4 L808.8 1143.5 L810.5 1142.6 L812.2 1141.7 L814.0 1140.7 L815.7 1139.8 L817.4 1138.8 L819.2 1137.8 L820.9 1136.8 L822.7 1135.8 L824.4 1134.8 L826.1 1133.8 L827.9 1132.7 L829.6 1131.7 L831.3 1130.6 L833.1 1129.6 L834.8 1128.5 L836.5 1127.4 L838.3 1126.4 L840.0 1125.3 L841.8 1124.2 L843.5 1123.1 L845.2 1122.0 L847.0 1120.9 L848.7 1119.7 L850.4 1118.6 L852.2 1117.5 L853.9 1116.4 L855.6 1115.2 L857.4 1114.1 L859.1 1113.0 L860.9 1111.9 L862.6 1110.7 L864.3 1109.6 L866.1 1108.4 L867.8 1107.3 L869.5 1106.2 L871.3 1105.0 L873.0 1103.9 L874.7 1102.8 L876.5 1101.6 L878.2 1100.5 L880.0 1099.4 L881.7 1098.2 L883.4 1097.1 L885.2 1096.0 L886.9 1094.9 L888.6 1093.8 L890.4 1092.7 L892.1 1091.5 L893.9 1090.4 L895.6 1089.3 L897.3 1088.2 L899.1 1087.1 L900.8 1086.0 L902.5 1084.9 L904.3 1083.8 L906.0 1082.7 L907.7 1081.7 L909.5 1080.6 L911.2 1079.5 L913.0 1078.4 L914.7 1077.3 L916.4 1076.2 L918.2 1075.1 L919.9 1074.1 L921.6 1073.0 L923.4 1071.9 L925.1 1070.8 L926.8 1069.7 L928.6 1068.6 L930.3 1067.5 L932.1 1066.4 L933.8 1065.3 L935.5 1064.2 L937.3 1063.0 L939.0 1061.9 L940.7 1060.8 L942.5 1059.6 L944.2 1058.5 L945.9 1057.3 L947.7 1056.1 L949.4 1054.9 L951.2 1053.7 L952.9 1052.5 L954.6 1051.3 L956.4 1050.1 L958.1 1048.8 L959.8 1047.6 L961.6 1046.3 L963.3 1045.0 L965.0 1043.7 L966.8 1042.4 L968.5 1041.1 L970.3 1039.8 L972.0 1038.5 L973.7 1037.1 L975.5 1035.8 L977.2 1034.4 L978.9 1033.0 L980.7 1031.6 L982.4 1030.2 L984.1 1028.8 L985.9 1027.3 L987.6 1025.9 L989.4 1024.4 L991.1 1022.9 L992.8 1021.5 L994.6 1020.0 L996.3 1018.5 L998.0 1017.0 L999.8 1015.4 L1001.5 1013.9 L1003.3 1012.4 L1005.0 1010.8 L1006.7 1009.3 L1008.5 1007.8 L1010.2 1006.2 L1011.9 1004.7 L1013.7 1003.1 L1015.4 1001.6 L1017.1 1000.0 L1018.9 998.5 L1020.6 996.9 L1022.4 995.4 L1024.1 993.8 L1025.8 992.3 L1027.6 990.8 L1029.3 989.3 L1031.0 987.8 L1032.8 986.3 L1034.5 984.8 L1036.2 983.4 L1038.0 981.9 L1039.7 980.5 L1041.5 979.1 L1043.2 977.8 L1044.9 976.4 L1046.7 975.1 L1048.4 973.8 L1050.1 972.5 L1051.9 971.3 L1053.6 970.1 L1055.3 968.9 L1057.1 967.8 L1058.8 966.6 L1060.6 965.6 L1062.3 964.6 L1064.0 963.6 L1065.8 962.6 L1067.5 961.7 L1069.2 960.9 L1071.0 960.1 L1072.7 959.3 L1074.4 958.6 L1076.2 957.9 L1077.9 957.3 L1079.7 956.8 L1081.4 956.3 L1083.1 955.8 L1084.9 955.4 L1086.6 955.1 L1088.3 954.8 L1090.1 954.6 L1091.8 954.5 L1093.5 954.4 L1095.3 954.3 L1097.0 954.4 L1098.8 954.5 L1100.5 954.6 L1102.2 954.8 L1104.0 955.1 L1105.7 955.5 L1107.4 955.9 L1109.2 956.3 L1110.9 956.9 L1112.7 957.5 L1114.4 958.1 L1116.1 958.8 L1117.9 959.6 L1119.6 960.5 L1121.3 961.4 L1123.1 962.4 L1124.8 963.4 L1126.5 964.5 L1128.3 965.6 L1130.0 966.8 L1131.8 968.1 L1133.5 969.4 L1135.2 970.8 L1137.0 972.2 L1138.7 973.7 L1140.4 975.3 L1142.2 976.9 L1143.9 978.5 L1145.6 980.2 L1147.4 982.0 L1149.1 983.7 L1150.9 985.6 L1152.6 987.5 L1154.3 989.4 L1156.1 991.3 L1157.8 993.4 L1159.5 995.4 L1161.3 997.5 L1163.0 999.6 L1164.7 1001.7 L1166.5 1003.9 L1168.2 1006.1 L1170.0 1008.3 L1171.7 1010.6 L1173.4 1012.9 L1175.2 1015.2 L1176.9 1017.5 L1178.6 1019.9 L1180.4 1022.2 L1182.1 1024.6 L1183.8 1027.0 L1185.6 1029.4 L1187.3 1031.8 L1189.1 1034.2 L1190.8 1036.7 L1192.5 1039.1 L1194.3 1041.5 L1196.0 1044.0 L1197.7 1046.4 L1199.5 1048.9 L1201.2 1051.3 L1202.9 1053.7 L1204.7 1056.2 L1206.4 1058.6 L1208.2 1061.0 L1209.9 1063.4 L1211.6 1065.8 L1213.4 1068.2 L1215.1 1070.5 L1216.8 1072.9 L1218.6 1075.2 L1220.3 1077.5 L1222.0 1079.8 L1223.8 1082.1 L1225.5 1084.4 L1227.3 1086.6 L1229.0 1088.8 L1230.7 1091.0 L1232.5 1093.1 L1234.2 1095.3 L1235.9 1097.4 L1237.7 1099.5 L1239.4 1101.5 L1241.2 1103.5 L1242.9 1105.5 L1244.6 1107.4 L1246.4 1109.4 L1248.1 1111.3 L1249.8 1113.1 L1251.6 1115.0 L1253.3 1116.8 L1255.0 1118.5 L1256.8 1120.3 L1258.5 1122.0 L1260.3 1123.6 L1262.0 1125.3 L1263.7 1126.9 L1265.5 1128.4 L1267.2 1130.0 L1268.9 1131.5 L1270.7 1133.0 L1272.4 1134.4 L1274.1 1135.8 L1275.9 1137.2 L1277.6 1138.5 L1279.4 1139.8 L1281.1 1141.1 L1282.8 1142.3 L1284.6 1143.5 L1286.3 1144.7 L1288.0 1145.9 L1289.8 1147.0 L1291.5 1148.1 L1293.2 1149.1 L1295.0 1150.2 L1296.7 1151.2 L1298.5 1152.1 L1300.2 1153.1 L1301.9 1154.0 L1303.7 1154.9 L1305.4 1155.7 L1307.1 1156.5 L1308.9 1157.4 L1310.6 1158.1 L1312.3 1158.9 L1314.1 1159.6 L1315.8 1160.3 L1317.6 1161.0 L1319.3 1161.7 L1321.0 1162.3 L1322.8 1162.9 L1324.5 1163.5 L1326.2 1164.1 L1328.0 1164.6 L1329.7 1165.1 L1331.4 1165.6 L1333.2 1166.1 L1334.9 1166.6 L1336.7 1167.1 L1338.4 1167.5 L1340.1 1167.9 L1341.9 1168.3 L1343.6 1168.7 L1345.3 1169.1 L1347.1 1169.5 L1348.8 1169.8 L1350.6 1170.2 L1352.3 1170.5 L1354.0 1170.8 L1355.8 1171.1 L1357.5 1171.4 L1359.2 1171.7 L1361.0 1171.9 L1362.7 1172.2 L1364.4 1172.4 L1366.2 1172.6 L1367.9 1172.8 L1369.7 1173.1 L1371.4 1173.2 L1373.1 1173.4 L1374.9 1173.6 L1376.6 1173.8 L1378.3 1174.0 L1380.1 1174.1 L1381.8 1174.3 L1383.5 1174.4 L1385.3 1174.5 L1387.0 1174.7 L1388.8 1174.8 L1390.5 1174.9 L1392.2 1175.0 L1394.0 1175.1 L1395.7 1175.2 L1397.4 1175.3 L1399.2 1175.4 L1400.9 1175.5 L1402.6 1175.6 L1404.4 1175.6 L1406.1 1175.7 L1407.9 1175.8 L1409.6 1175.9 L1411.3 1175.9 L1413.1 1176.0 L1414.8 1176.0 L1416.5 1176.1 L1418.3 1176.1 L1420.0 1176.2 L1421.7 1176.2 L1423.5 1176.3 L1425.2 1176.3 L1427.0 1176.3 L1428.7 1176.4 L1430.4 1176.4 L1432.2 1176.4 L1433.9 1176.5 L1435.6 1176.5 L1437.4 1176.5 L1439.1 1176.5 L1440.8 1176.6 L1442.6 1176.6 L1444.3 1176.6 L1446.1 1176.6 L1447.8 1176.6 L1449.5 1176.7 L1451.3 1176.7 L1453.0 1176.7 L1454.7 1176.7 L1456.5 1176.7 L1458.2 1176.7 L1460.0 1176.7 L1461.7 1176.8 L1463.4 1176.8 L1465.2 1176.8 L1466.9 1176.8 L1468.6 1176.8 L1470.4 1176.8 L1472.1 1176.8 L1473.8 1176.8 L1475.6 1176.8 L1477.3 1176.8 L1479.1 1176.8 L1480.8 1176.8 L1482.5 1176.8 L1484.3 1176.8 L1485.5 1176.8" stroke="#36AA67" stroke-width="7" fill="none" stroke-linejoin="round"/>
<circle cx="1485.5" cy="1176.8" r="3.5" fill="#36AA67"/>
</g>
<g id="annot-arrows">
<line x1="387.1" y1="291.7" x2="425.2" y2="324.5" stroke="#000" stroke-width="5.5"/><polygon points="446.6,342.8 420.8,329.7 429.7,319.4" fill="#000" stroke="#000" stroke-width="5.4" stroke-linejoin="round"/>
<line x1="784.0" y1="514.0" x2="853.0" y2="583.0" stroke="#000" stroke-width="5.5"/><polygon points="872.9,602.9 848.2,587.8 857.8,578.2" fill="#000" stroke="#000" stroke-width="5.4" stroke-linejoin="round"/>
<line x1="1257.6" y1="378.6" x2="1204.2" y2="431.5" stroke="#000" stroke-width="5.5"/><polygon points="1184.2,451.3 1199.4,426.7 1209.0,436.4" fill="#000" stroke="#000" stroke-width="5.4" stroke-linejoin="round"/>
<line x1="372.8" y1="795.3" x2="413.9" y2="828.5" stroke="#000" stroke-width="5.5"/><polygon points="435.8,846.2 409.7,833.8 418.2,823.3" fill="#000" stroke="#000" stroke-width="5.4" stroke-linejoin="round"/>
<line x1="799.1" y1="1039.7" x2="857.6" y2="1092.1" stroke="#000" stroke-width="5.5"/><polygon points="878.6,1110.8 853.1,1097.1 862.2,1087.0" fill="#000" stroke="#000" stroke-width="5.4" stroke-linejoin="round"/>
<line x1="1192.7" y1="914.7" x2="1156.0" y2="959.4" stroke="#000" stroke-width="5.5"/><polygon points="1138.2,981.1 1150.8,955.1 1161.3,963.7" fill="#000" stroke="#000" stroke-width="5.4" stroke-linejoin="round"/>
</g>
<g id="frame">
<rect x="102" y="21" width="1485" height="10" fill="#000"/>
<rect x="102" y="1211" width="1485" height="10" fill="#000"/>
<rect x="102" y="21" width="9" height="1207" fill="#000"/>
<rect x="1577" y="21" width="10" height="1219" fill="#000"/>
<rect x="188.0" y="1216" width="10" height="24" fill="#000"/>
<rect x="361.6" y="1216" width="10" height="24" fill="#000"/>
<rect x="535.3" y="1216" width="10" height="24" fill="#000"/>
<rect x="708.9" y="1216" width="10" height="24" fill="#000"/>
<rect x="882.6" y="1216" width="10" height="24" fill="#000"/>
<rect x="1056.2" y="1216" width="10" height="24" fill="#000"/>
<rect x="1229.9" y="1216" width="10" height="24" fill="#000"/>
<rect x="1403.5" y="1216" width="10" height="24" fill="#000"/>
<rect x="274.8" y="1216" width="10" height="12" fill="#000"/>
<rect x="448.5" y="1216" width="10" height="12" fill="#000"/>
<rect x="622.1" y="1216" width="10" height="12" fill="#000"/>
<rect x="795.8" y="1216" width="10" height="12" fill="#000"/>
<rect x="969.4" y="1216" width="10" height="12" fill="#000"/>
<rect x="1143.1" y="1216" width="10" height="12" fill="#000"/>
<rect x="1316.7" y="1216" width="10" height="12" fill="#000"/>
<rect x="1490.4" y="1216" width="10" height="12" fill="#000"/>
</g>
<g id="ticklabels">
<text x="192.5" y="1317.8" text-anchor="middle" class="b" font-size="79.6" letter-spacing="0">0</text>
<text x="365.8" y="1317.8" text-anchor="middle" class="b" font-size="79.6" letter-spacing="-0.6">100</text>
<text x="539.5" y="1317.8" text-anchor="middle" class="b" font-size="79.6" letter-spacing="-0.6">200</text>
<text x="713.1" y="1317.8" text-anchor="middle" class="b" font-size="79.6" letter-spacing="-0.6">300</text>
<text x="886.8" y="1317.8" text-anchor="middle" class="b" font-size="79.6" letter-spacing="-0.6">400</text>
<text x="1060.5" y="1317.8" text-anchor="middle" class="b" font-size="79.6" letter-spacing="-0.6">500</text>
<text x="1234.1" y="1317.8" text-anchor="middle" class="b" font-size="79.6" letter-spacing="-0.6">600</text>
<text x="1407.8" y="1317.8" text-anchor="middle" class="b" font-size="79.6" letter-spacing="-0.6">700</text>
<text x="1581.4" y="1317.8" text-anchor="middle" class="b" font-size="79.6" letter-spacing="-0.6">800</text>
</g>
<g id="texts">
<text x="298.5" y="276" class="r" font-size="62" >Peak I</text>
<text x="685.2" y="514" class="r" font-size="62" >Peak II</text>
<text x="1179.3" y="358" class="r" font-size="62" >Peak III</text>
<text x="250.5" y="791" class="r" font-size="62" >Peak I</text>
<text x="689.5" y="1032" class="r" font-size="62" >Peak II</text>
<text x="1113.5" y="902.7" class="r" font-size="62" >Peak III</text>
<text x="608" y="264.8" class="b" font-size="62" >Fresh Cr-In/H-SSZ-39</text>
<text x="590" y="828" class="b" font-size="62" >Used Cr-In/H-SSZ-39</text>
<text x="530.5" y="1396.9" class="b" font-size="78.8">Temperature (°C)</text>
<text transform="translate(78,829.6) rotate(-90)" class="b" font-size="78.8" letter-spacing="0.16">Intensity (a.u.)</text>
</g>
</svg>
</body></html>
